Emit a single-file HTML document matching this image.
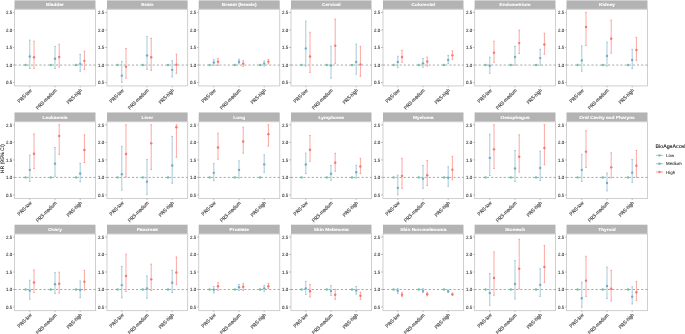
<!DOCTYPE html><html><head><meta charset="utf-8"><style>html,body{margin:0;padding:0;background:#fff;}svg{display:block;will-change:transform;}text{font-family:"Liberation Sans",sans-serif;text-rendering:geometricPrecision;}</style></head><body>
<svg width="685" height="334" viewBox="0 0 685 334">
<rect x="0" y="0" width="685" height="334" fill="#fff"/>
<g opacity="0.999">
<rect x="14.5" y="0.4" width="81" height="8.85" fill="#b3b3b3"/>
<text transform="translate(55,6.16) scale(1,0.9) rotate(0.01)" font-size="4.8" font-weight="bold" fill="#fff" stroke="#fff" stroke-width="0.1" text-anchor="middle">Bladder</text>
<rect x="14.5" y="9.25" width="81" height="76.65" fill="none" stroke="#cfcfcf" stroke-width="1"/>
<line x1="12.9" x2="14.5" y1="82.55" y2="82.55" stroke="#9a9a9a" stroke-width="0.6"/>
<text transform="translate(12.15,84.43) scale(1,1.07) rotate(0.01)" font-size="4.4" fill="#1a1a1a" stroke="#1a1a1a" stroke-width="0.06" text-anchor="end">0.5</text>
<line x1="12.9" x2="14.5" y1="65.05" y2="65.05" stroke="#9a9a9a" stroke-width="0.6"/>
<text transform="translate(12.15,66.93) scale(1,1.07) rotate(0.01)" font-size="4.4" fill="#1a1a1a" stroke="#1a1a1a" stroke-width="0.06" text-anchor="end">1.0</text>
<line x1="12.9" x2="14.5" y1="47.55" y2="47.55" stroke="#9a9a9a" stroke-width="0.6"/>
<text transform="translate(12.15,49.43) scale(1,1.07) rotate(0.01)" font-size="4.4" fill="#1a1a1a" stroke="#1a1a1a" stroke-width="0.06" text-anchor="end">1.5</text>
<line x1="12.9" x2="14.5" y1="30.05" y2="30.05" stroke="#9a9a9a" stroke-width="0.6"/>
<text transform="translate(12.15,31.93) scale(1,1.07) rotate(0.01)" font-size="4.4" fill="#1a1a1a" stroke="#1a1a1a" stroke-width="0.06" text-anchor="end">2.0</text>
<line x1="12.9" x2="14.5" y1="12.55" y2="12.55" stroke="#9a9a9a" stroke-width="0.6"/>
<text transform="translate(12.15,14.43) scale(1,1.07) rotate(0.01)" font-size="4.4" fill="#1a1a1a" stroke="#1a1a1a" stroke-width="0.06" text-anchor="end">2.5</text>
<line x1="29.8" x2="29.8" y1="85.9" y2="87.4" stroke="#9a9a9a" stroke-width="0.6"/>
<text transform="translate(29.5,88.3) rotate(-45) scale(1,1.15)" font-size="4.55" fill="#3a3a3a" stroke="#3a3a3a" stroke-width="0.1" text-anchor="end" y="3.08">PRS-low</text>
<line x1="55" x2="55" y1="85.9" y2="87.4" stroke="#9a9a9a" stroke-width="0.6"/>
<text transform="translate(54.7,88.3) rotate(-45) scale(1,1.15)" font-size="4.55" fill="#3a3a3a" stroke="#3a3a3a" stroke-width="0.1" text-anchor="end" y="3.08">PRS-medium</text>
<line x1="80.2" x2="80.2" y1="85.9" y2="87.4" stroke="#9a9a9a" stroke-width="0.6"/>
<text transform="translate(79.9,88.3) rotate(-45) scale(1,1.15)" font-size="4.55" fill="#3a3a3a" stroke="#3a3a3a" stroke-width="0.1" text-anchor="end" y="3.08">PRS-high</text>
<line x1="14.5" x2="95.5" y1="65.05" y2="65.05" stroke="#888" stroke-width="0.75" stroke-dasharray="2.1 2.05"/>
<circle cx="25.6" cy="65.05" r="1.2" fill="#6cc49e"/>
<g stroke="#74abc5" stroke-width="0.7" stroke-opacity="0.9"><line x1="29.8" x2="29.8" y1="40.12" y2="68.48"/><line x1="29" x2="30.6" y1="40.12" y2="40.12"/><line x1="29" x2="30.6" y1="68.48" y2="68.48"/></g>
<circle cx="29.8" cy="56.49" r="1.2" fill="#74abc5"/>
<g stroke="#f8766d" stroke-width="0.7" stroke-opacity="0.9"><line x1="34" x2="34" y1="41.28" y2="68.48"/><line x1="33.2" x2="34.8" y1="41.28" y2="41.28"/><line x1="33.2" x2="34.8" y1="68.48" y2="68.48"/></g>
<circle cx="34" cy="57.18" r="1.2" fill="#f8766d"/>
<circle cx="50.8" cy="65.05" r="1.2" fill="#6cc49e"/>
<g stroke="#74abc5" stroke-width="0.7" stroke-opacity="0.9"><line x1="55" x2="55" y1="46.35" y2="68.48"/><line x1="54.2" x2="55.8" y1="46.35" y2="46.35"/><line x1="54.2" x2="55.8" y1="68.48" y2="68.48"/></g>
<circle cx="55" cy="58.8" r="1.2" fill="#74abc5"/>
<g stroke="#f8766d" stroke-width="0.7" stroke-opacity="0.9"><line x1="59.2" x2="59.2" y1="44.27" y2="67.1"/><line x1="58.4" x2="60" y1="44.27" y2="44.27"/><line x1="58.4" x2="60" y1="67.1" y2="67.1"/></g>
<circle cx="59.2" cy="56.95" r="1.2" fill="#f8766d"/>
<circle cx="76" cy="65.05" r="1.2" fill="#6cc49e"/>
<g stroke="#74abc5" stroke-width="0.7" stroke-opacity="0.9"><line x1="80.2" x2="80.2" y1="54.42" y2="71.25"/><line x1="79.4" x2="81" y1="54.42" y2="54.42"/><line x1="79.4" x2="81" y1="71.25" y2="71.25"/></g>
<circle cx="80.2" cy="63.87" r="1.2" fill="#74abc5"/>
<g stroke="#f8766d" stroke-width="0.7" stroke-opacity="0.9"><line x1="84.4" x2="84.4" y1="51.19" y2="69.4"/><line x1="83.6" x2="85.2" y1="51.19" y2="51.19"/><line x1="83.6" x2="85.2" y1="69.4" y2="69.4"/></g>
<circle cx="84.4" cy="60.87" r="1.2" fill="#f8766d"/>
<rect x="107" y="0.4" width="80.6" height="8.85" fill="#b3b3b3"/>
<text transform="translate(147.3,6.16) scale(1,0.9) rotate(0.01)" font-size="4.8" font-weight="bold" fill="#fff" stroke="#fff" stroke-width="0.1" text-anchor="middle">Brain</text>
<rect x="107" y="9.25" width="80.6" height="76.65" fill="none" stroke="#cfcfcf" stroke-width="1"/>
<line x1="104.9" x2="107" y1="82.55" y2="82.55" stroke="#9a9a9a" stroke-width="0.6"/>
<text transform="translate(104.15,84.43) scale(1,1.07) rotate(0.01)" font-size="4.4" fill="#1a1a1a" stroke="#1a1a1a" stroke-width="0.06" text-anchor="end">0.5</text>
<line x1="104.9" x2="107" y1="65.05" y2="65.05" stroke="#9a9a9a" stroke-width="0.6"/>
<text transform="translate(104.15,66.93) scale(1,1.07) rotate(0.01)" font-size="4.4" fill="#1a1a1a" stroke="#1a1a1a" stroke-width="0.06" text-anchor="end">1.0</text>
<line x1="104.9" x2="107" y1="47.55" y2="47.55" stroke="#9a9a9a" stroke-width="0.6"/>
<text transform="translate(104.15,49.43) scale(1,1.07) rotate(0.01)" font-size="4.4" fill="#1a1a1a" stroke="#1a1a1a" stroke-width="0.06" text-anchor="end">1.5</text>
<line x1="104.9" x2="107" y1="30.05" y2="30.05" stroke="#9a9a9a" stroke-width="0.6"/>
<text transform="translate(104.15,31.93) scale(1,1.07) rotate(0.01)" font-size="4.4" fill="#1a1a1a" stroke="#1a1a1a" stroke-width="0.06" text-anchor="end">2.0</text>
<line x1="104.9" x2="107" y1="12.55" y2="12.55" stroke="#9a9a9a" stroke-width="0.6"/>
<text transform="translate(104.15,14.43) scale(1,1.07) rotate(0.01)" font-size="4.4" fill="#1a1a1a" stroke="#1a1a1a" stroke-width="0.06" text-anchor="end">2.5</text>
<line x1="121.8" x2="121.8" y1="85.9" y2="87.4" stroke="#9a9a9a" stroke-width="0.6"/>
<text transform="translate(121.5,88.3) rotate(-45) scale(1,1.15)" font-size="4.55" fill="#3a3a3a" stroke="#3a3a3a" stroke-width="0.1" text-anchor="end" y="3.08">PRS-low</text>
<line x1="147" x2="147" y1="85.9" y2="87.4" stroke="#9a9a9a" stroke-width="0.6"/>
<text transform="translate(146.7,88.3) rotate(-45) scale(1,1.15)" font-size="4.55" fill="#3a3a3a" stroke="#3a3a3a" stroke-width="0.1" text-anchor="end" y="3.08">PRS-medium</text>
<line x1="172.2" x2="172.2" y1="85.9" y2="87.4" stroke="#9a9a9a" stroke-width="0.6"/>
<text transform="translate(171.9,88.3) rotate(-45) scale(1,1.15)" font-size="4.55" fill="#3a3a3a" stroke="#3a3a3a" stroke-width="0.1" text-anchor="end" y="3.08">PRS-high</text>
<line x1="107" x2="187.6" y1="65.05" y2="65.05" stroke="#888" stroke-width="0.75" stroke-dasharray="2.1 2.05"/>
<circle cx="117.6" cy="65.05" r="1.2" fill="#6cc49e"/>
<g stroke="#74abc5" stroke-width="0.7" stroke-opacity="0.9"><line x1="121.8" x2="121.8" y1="61.56" y2="82.31"/><line x1="121" x2="122.6" y1="61.56" y2="61.56"/><line x1="121" x2="122.6" y1="82.31" y2="82.31"/></g>
<circle cx="121.8" cy="75.63" r="1.2" fill="#74abc5"/>
<g stroke="#f8766d" stroke-width="0.7" stroke-opacity="0.9"><line x1="126" x2="126" y1="48.42" y2="78.16"/><line x1="125.2" x2="126.8" y1="48.42" y2="48.42"/><line x1="125.2" x2="126.8" y1="78.16" y2="78.16"/></g>
<circle cx="126" cy="66.63" r="1.2" fill="#f8766d"/>
<circle cx="142.8" cy="65.05" r="1.2" fill="#6cc49e"/>
<g stroke="#74abc5" stroke-width="0.7" stroke-opacity="0.9"><line x1="147" x2="147" y1="36.66" y2="69.4"/><line x1="146.2" x2="147.8" y1="36.66" y2="36.66"/><line x1="146.2" x2="147.8" y1="69.4" y2="69.4"/></g>
<circle cx="147" cy="55.57" r="1.2" fill="#74abc5"/>
<g stroke="#f8766d" stroke-width="0.7" stroke-opacity="0.9"><line x1="151.2" x2="151.2" y1="38.28" y2="70.32"/><line x1="150.4" x2="152" y1="38.28" y2="38.28"/><line x1="150.4" x2="152" y1="70.32" y2="70.32"/></g>
<circle cx="151.2" cy="57.18" r="1.2" fill="#f8766d"/>
<circle cx="168" cy="65.05" r="1.2" fill="#6cc49e"/>
<g stroke="#74abc5" stroke-width="0.7" stroke-opacity="0.9"><line x1="172.2" x2="172.2" y1="60.64" y2="77.01"/><line x1="171.4" x2="173" y1="60.64" y2="60.64"/><line x1="171.4" x2="173" y1="77.01" y2="77.01"/></g>
<circle cx="172.2" cy="69.86" r="1.2" fill="#74abc5"/>
<g stroke="#f8766d" stroke-width="0.7" stroke-opacity="0.9"><line x1="176.4" x2="176.4" y1="54.19" y2="73.32"/><line x1="175.6" x2="177.2" y1="54.19" y2="54.19"/><line x1="175.6" x2="177.2" y1="73.32" y2="73.32"/></g>
<circle cx="176.4" cy="64.79" r="1.2" fill="#f8766d"/>
<rect x="198.7" y="0.4" width="81" height="8.85" fill="#b3b3b3"/>
<text transform="translate(239.2,6.16) scale(1,0.9) rotate(0.01)" font-size="4.8" font-weight="bold" fill="#fff" stroke="#fff" stroke-width="0.1" text-anchor="middle">Breast (female)</text>
<rect x="198.7" y="9.25" width="81" height="76.65" fill="none" stroke="#cfcfcf" stroke-width="1"/>
<line x1="196.9" x2="198.7" y1="82.55" y2="82.55" stroke="#9a9a9a" stroke-width="0.6"/>
<text transform="translate(196.15,84.43) scale(1,1.07) rotate(0.01)" font-size="4.4" fill="#1a1a1a" stroke="#1a1a1a" stroke-width="0.06" text-anchor="end">0.5</text>
<line x1="196.9" x2="198.7" y1="65.05" y2="65.05" stroke="#9a9a9a" stroke-width="0.6"/>
<text transform="translate(196.15,66.93) scale(1,1.07) rotate(0.01)" font-size="4.4" fill="#1a1a1a" stroke="#1a1a1a" stroke-width="0.06" text-anchor="end">1.0</text>
<line x1="196.9" x2="198.7" y1="47.55" y2="47.55" stroke="#9a9a9a" stroke-width="0.6"/>
<text transform="translate(196.15,49.43) scale(1,1.07) rotate(0.01)" font-size="4.4" fill="#1a1a1a" stroke="#1a1a1a" stroke-width="0.06" text-anchor="end">1.5</text>
<line x1="196.9" x2="198.7" y1="30.05" y2="30.05" stroke="#9a9a9a" stroke-width="0.6"/>
<text transform="translate(196.15,31.93) scale(1,1.07) rotate(0.01)" font-size="4.4" fill="#1a1a1a" stroke="#1a1a1a" stroke-width="0.06" text-anchor="end">2.0</text>
<line x1="196.9" x2="198.7" y1="12.55" y2="12.55" stroke="#9a9a9a" stroke-width="0.6"/>
<text transform="translate(196.15,14.43) scale(1,1.07) rotate(0.01)" font-size="4.4" fill="#1a1a1a" stroke="#1a1a1a" stroke-width="0.06" text-anchor="end">2.5</text>
<line x1="213.8" x2="213.8" y1="85.9" y2="87.4" stroke="#9a9a9a" stroke-width="0.6"/>
<text transform="translate(213.5,88.3) rotate(-45) scale(1,1.15)" font-size="4.55" fill="#3a3a3a" stroke="#3a3a3a" stroke-width="0.1" text-anchor="end" y="3.08">PRS-low</text>
<line x1="239" x2="239" y1="85.9" y2="87.4" stroke="#9a9a9a" stroke-width="0.6"/>
<text transform="translate(238.7,88.3) rotate(-45) scale(1,1.15)" font-size="4.55" fill="#3a3a3a" stroke="#3a3a3a" stroke-width="0.1" text-anchor="end" y="3.08">PRS-medium</text>
<line x1="264.2" x2="264.2" y1="85.9" y2="87.4" stroke="#9a9a9a" stroke-width="0.6"/>
<text transform="translate(263.9,88.3) rotate(-45) scale(1,1.15)" font-size="4.55" fill="#3a3a3a" stroke="#3a3a3a" stroke-width="0.1" text-anchor="end" y="3.08">PRS-high</text>
<line x1="198.7" x2="279.7" y1="65.05" y2="65.05" stroke="#888" stroke-width="0.75" stroke-dasharray="2.1 2.05"/>
<circle cx="209.6" cy="65.05" r="1.2" fill="#6cc49e"/>
<g stroke="#74abc5" stroke-width="0.7" stroke-opacity="0.9"><line x1="213.8" x2="213.8" y1="59.42" y2="65.41"/><line x1="213" x2="214.6" y1="59.42" y2="59.42"/><line x1="213" x2="214.6" y1="65.41" y2="65.41"/></g>
<circle cx="213.8" cy="62.53" r="1.2" fill="#74abc5"/>
<g stroke="#f8766d" stroke-width="0.7" stroke-opacity="0.9"><line x1="218" x2="218" y1="58.46" y2="65.41"/><line x1="217.2" x2="218.8" y1="58.46" y2="58.46"/><line x1="217.2" x2="218.8" y1="65.41" y2="65.41"/></g>
<circle cx="218" cy="61.82" r="1.2" fill="#f8766d"/>
<circle cx="234.8" cy="65.05" r="1.2" fill="#6cc49e"/>
<g stroke="#74abc5" stroke-width="0.7" stroke-opacity="0.9"><line x1="239" x2="239" y1="59.18" y2="63.97"/><line x1="238.2" x2="239.8" y1="59.18" y2="59.18"/><line x1="238.2" x2="239.8" y1="63.97" y2="63.97"/></g>
<circle cx="239" cy="61.82" r="1.2" fill="#74abc5"/>
<g stroke="#f8766d" stroke-width="0.7" stroke-opacity="0.9"><line x1="243.2" x2="243.2" y1="60.62" y2="66.36"/><line x1="242.4" x2="244" y1="60.62" y2="60.62"/><line x1="242.4" x2="244" y1="66.36" y2="66.36"/></g>
<circle cx="243.2" cy="63.61" r="1.2" fill="#f8766d"/>
<circle cx="260" cy="65.05" r="1.2" fill="#6cc49e"/>
<g stroke="#74abc5" stroke-width="0.7" stroke-opacity="0.9"><line x1="264.2" x2="264.2" y1="61.1" y2="66.12"/><line x1="263.4" x2="265" y1="61.1" y2="61.1"/><line x1="263.4" x2="265" y1="66.12" y2="66.12"/></g>
<circle cx="264.2" cy="63.61" r="1.2" fill="#74abc5"/>
<g stroke="#f8766d" stroke-width="0.7" stroke-opacity="0.9"><line x1="268.4" x2="268.4" y1="59.42" y2="63.97"/><line x1="267.6" x2="269.2" y1="59.42" y2="59.42"/><line x1="267.6" x2="269.2" y1="63.97" y2="63.97"/></g>
<circle cx="268.4" cy="61.58" r="1.2" fill="#f8766d"/>
<rect x="291" y="0.4" width="80.5" height="8.85" fill="#b3b3b3"/>
<text transform="translate(331.25,6.16) scale(1,0.9) rotate(0.01)" font-size="4.8" font-weight="bold" fill="#fff" stroke="#fff" stroke-width="0.1" text-anchor="middle">Cervical</text>
<rect x="291" y="9.25" width="80.5" height="76.65" fill="none" stroke="#cfcfcf" stroke-width="1"/>
<line x1="288.9" x2="291" y1="82.55" y2="82.55" stroke="#9a9a9a" stroke-width="0.6"/>
<text transform="translate(288.15,84.43) scale(1,1.07) rotate(0.01)" font-size="4.4" fill="#1a1a1a" stroke="#1a1a1a" stroke-width="0.06" text-anchor="end">0.5</text>
<line x1="288.9" x2="291" y1="65.05" y2="65.05" stroke="#9a9a9a" stroke-width="0.6"/>
<text transform="translate(288.15,66.93) scale(1,1.07) rotate(0.01)" font-size="4.4" fill="#1a1a1a" stroke="#1a1a1a" stroke-width="0.06" text-anchor="end">1.0</text>
<line x1="288.9" x2="291" y1="47.55" y2="47.55" stroke="#9a9a9a" stroke-width="0.6"/>
<text transform="translate(288.15,49.43) scale(1,1.07) rotate(0.01)" font-size="4.4" fill="#1a1a1a" stroke="#1a1a1a" stroke-width="0.06" text-anchor="end">1.5</text>
<line x1="288.9" x2="291" y1="30.05" y2="30.05" stroke="#9a9a9a" stroke-width="0.6"/>
<text transform="translate(288.15,31.93) scale(1,1.07) rotate(0.01)" font-size="4.4" fill="#1a1a1a" stroke="#1a1a1a" stroke-width="0.06" text-anchor="end">2.0</text>
<line x1="288.9" x2="291" y1="12.55" y2="12.55" stroke="#9a9a9a" stroke-width="0.6"/>
<text transform="translate(288.15,14.43) scale(1,1.07) rotate(0.01)" font-size="4.4" fill="#1a1a1a" stroke="#1a1a1a" stroke-width="0.06" text-anchor="end">2.5</text>
<line x1="305.8" x2="305.8" y1="85.9" y2="87.4" stroke="#9a9a9a" stroke-width="0.6"/>
<text transform="translate(305.5,88.3) rotate(-45) scale(1,1.15)" font-size="4.55" fill="#3a3a3a" stroke="#3a3a3a" stroke-width="0.1" text-anchor="end" y="3.08">PRS-low</text>
<line x1="331" x2="331" y1="85.9" y2="87.4" stroke="#9a9a9a" stroke-width="0.6"/>
<text transform="translate(330.7,88.3) rotate(-45) scale(1,1.15)" font-size="4.55" fill="#3a3a3a" stroke="#3a3a3a" stroke-width="0.1" text-anchor="end" y="3.08">PRS-medium</text>
<line x1="356.2" x2="356.2" y1="85.9" y2="87.4" stroke="#9a9a9a" stroke-width="0.6"/>
<text transform="translate(355.9,88.3) rotate(-45) scale(1,1.15)" font-size="4.55" fill="#3a3a3a" stroke="#3a3a3a" stroke-width="0.1" text-anchor="end" y="3.08">PRS-high</text>
<line x1="291" x2="371.5" y1="65.05" y2="65.05" stroke="#888" stroke-width="0.75" stroke-dasharray="2.1 2.05"/>
<circle cx="301.6" cy="65.05" r="1.2" fill="#6cc49e"/>
<g stroke="#74abc5" stroke-width="0.7" stroke-opacity="0.9"><line x1="305.8" x2="305.8" y1="21.22" y2="66.17"/><line x1="305" x2="306.6" y1="21.22" y2="21.22"/><line x1="305" x2="306.6" y1="66.17" y2="66.17"/></g>
<circle cx="305.8" cy="48.42" r="1.2" fill="#74abc5"/>
<g stroke="#f8766d" stroke-width="0.7" stroke-opacity="0.9"><line x1="310" x2="310" y1="32.28" y2="72.4"/><line x1="309.2" x2="310.8" y1="32.28" y2="32.28"/><line x1="309.2" x2="310.8" y1="72.4" y2="72.4"/></g>
<circle cx="310" cy="56.49" r="1.2" fill="#f8766d"/>
<circle cx="326.8" cy="65.05" r="1.2" fill="#6cc49e"/>
<g stroke="#74abc5" stroke-width="0.7" stroke-opacity="0.9"><line x1="331" x2="331" y1="46.35" y2="78.16"/><line x1="330.2" x2="331.8" y1="46.35" y2="46.35"/><line x1="330.2" x2="331.8" y1="78.16" y2="78.16"/></g>
<circle cx="331" cy="65.48" r="1.2" fill="#74abc5"/>
<g stroke="#f8766d" stroke-width="0.7" stroke-opacity="0.9"><line x1="335.2" x2="335.2" y1="19.14" y2="63.64"/><line x1="334.4" x2="336" y1="19.14" y2="19.14"/><line x1="334.4" x2="336" y1="63.64" y2="63.64"/></g>
<circle cx="335.2" cy="45.66" r="1.2" fill="#f8766d"/>
<circle cx="352" cy="65.05" r="1.2" fill="#6cc49e"/>
<g stroke="#74abc5" stroke-width="0.7" stroke-opacity="0.9"><line x1="356.2" x2="356.2" y1="44.04" y2="74.24"/><line x1="355.4" x2="357" y1="44.04" y2="44.04"/><line x1="355.4" x2="357" y1="74.24" y2="74.24"/></g>
<circle cx="356.2" cy="62.02" r="1.2" fill="#74abc5"/>
<g stroke="#f8766d" stroke-width="0.7" stroke-opacity="0.9"><line x1="360.4" x2="360.4" y1="46.35" y2="76.32"/><line x1="359.6" x2="361.2" y1="46.35" y2="46.35"/><line x1="359.6" x2="361.2" y1="76.32" y2="76.32"/></g>
<circle cx="360.4" cy="64.33" r="1.2" fill="#f8766d"/>
<rect x="383" y="0.4" width="80.5" height="8.85" fill="#b3b3b3"/>
<text transform="translate(423.25,6.16) scale(1,0.9) rotate(0.01)" font-size="4.8" font-weight="bold" fill="#fff" stroke="#fff" stroke-width="0.1" text-anchor="middle">Colorectal</text>
<rect x="383" y="9.25" width="80.5" height="76.65" fill="none" stroke="#cfcfcf" stroke-width="1"/>
<line x1="380.9" x2="383" y1="82.55" y2="82.55" stroke="#9a9a9a" stroke-width="0.6"/>
<text transform="translate(380.15,84.43) scale(1,1.07) rotate(0.01)" font-size="4.4" fill="#1a1a1a" stroke="#1a1a1a" stroke-width="0.06" text-anchor="end">0.5</text>
<line x1="380.9" x2="383" y1="65.05" y2="65.05" stroke="#9a9a9a" stroke-width="0.6"/>
<text transform="translate(380.15,66.93) scale(1,1.07) rotate(0.01)" font-size="4.4" fill="#1a1a1a" stroke="#1a1a1a" stroke-width="0.06" text-anchor="end">1.0</text>
<line x1="380.9" x2="383" y1="47.55" y2="47.55" stroke="#9a9a9a" stroke-width="0.6"/>
<text transform="translate(380.15,49.43) scale(1,1.07) rotate(0.01)" font-size="4.4" fill="#1a1a1a" stroke="#1a1a1a" stroke-width="0.06" text-anchor="end">1.5</text>
<line x1="380.9" x2="383" y1="30.05" y2="30.05" stroke="#9a9a9a" stroke-width="0.6"/>
<text transform="translate(380.15,31.93) scale(1,1.07) rotate(0.01)" font-size="4.4" fill="#1a1a1a" stroke="#1a1a1a" stroke-width="0.06" text-anchor="end">2.0</text>
<line x1="380.9" x2="383" y1="12.55" y2="12.55" stroke="#9a9a9a" stroke-width="0.6"/>
<text transform="translate(380.15,14.43) scale(1,1.07) rotate(0.01)" font-size="4.4" fill="#1a1a1a" stroke="#1a1a1a" stroke-width="0.06" text-anchor="end">2.5</text>
<line x1="397.8" x2="397.8" y1="85.9" y2="87.4" stroke="#9a9a9a" stroke-width="0.6"/>
<text transform="translate(397.5,88.3) rotate(-45) scale(1,1.15)" font-size="4.55" fill="#3a3a3a" stroke="#3a3a3a" stroke-width="0.1" text-anchor="end" y="3.08">PRS-low</text>
<line x1="423" x2="423" y1="85.9" y2="87.4" stroke="#9a9a9a" stroke-width="0.6"/>
<text transform="translate(422.7,88.3) rotate(-45) scale(1,1.15)" font-size="4.55" fill="#3a3a3a" stroke="#3a3a3a" stroke-width="0.1" text-anchor="end" y="3.08">PRS-medium</text>
<line x1="448.2" x2="448.2" y1="85.9" y2="87.4" stroke="#9a9a9a" stroke-width="0.6"/>
<text transform="translate(447.9,88.3) rotate(-45) scale(1,1.15)" font-size="4.55" fill="#3a3a3a" stroke="#3a3a3a" stroke-width="0.1" text-anchor="end" y="3.08">PRS-high</text>
<line x1="383" x2="463.5" y1="65.05" y2="65.05" stroke="#888" stroke-width="0.75" stroke-dasharray="2.1 2.05"/>
<circle cx="393.6" cy="65.05" r="1.2" fill="#6cc49e"/>
<g stroke="#74abc5" stroke-width="0.7" stroke-opacity="0.9"><line x1="397.8" x2="397.8" y1="56.29" y2="67.55"/><line x1="397" x2="398.6" y1="56.29" y2="56.29"/><line x1="397" x2="398.6" y1="67.55" y2="67.55"/></g>
<circle cx="397.8" cy="61.92" r="1.2" fill="#74abc5"/>
<g stroke="#f8766d" stroke-width="0.7" stroke-opacity="0.9"><line x1="402" x2="402" y1="50.43" y2="62.28"/><line x1="401.2" x2="402.8" y1="50.43" y2="50.43"/><line x1="401.2" x2="402.8" y1="62.28" y2="62.28"/></g>
<circle cx="402" cy="57.01" r="1.2" fill="#f8766d"/>
<circle cx="418.8" cy="65.05" r="1.2" fill="#6cc49e"/>
<g stroke="#74abc5" stroke-width="0.7" stroke-opacity="0.9"><line x1="423" x2="423" y1="58.45" y2="67.31"/><line x1="422.2" x2="423.8" y1="58.45" y2="58.45"/><line x1="422.2" x2="423.8" y1="67.31" y2="67.31"/></g>
<circle cx="423" cy="63.36" r="1.2" fill="#74abc5"/>
<g stroke="#f8766d" stroke-width="0.7" stroke-opacity="0.9"><line x1="427.2" x2="427.2" y1="57.13" y2="66.11"/><line x1="426.4" x2="428" y1="57.13" y2="57.13"/><line x1="426.4" x2="428" y1="66.11" y2="66.11"/></g>
<circle cx="427.2" cy="61.56" r="1.2" fill="#f8766d"/>
<circle cx="444" cy="65.05" r="1.2" fill="#6cc49e"/>
<g stroke="#74abc5" stroke-width="0.7" stroke-opacity="0.9"><line x1="448.2" x2="448.2" y1="55.46" y2="63.72"/><line x1="447.4" x2="449" y1="55.46" y2="55.46"/><line x1="447.4" x2="449" y1="63.72" y2="63.72"/></g>
<circle cx="448.2" cy="60.01" r="1.2" fill="#74abc5"/>
<g stroke="#f8766d" stroke-width="0.7" stroke-opacity="0.9"><line x1="452.4" x2="452.4" y1="50.79" y2="59.41"/><line x1="451.6" x2="453.2" y1="50.79" y2="50.79"/><line x1="451.6" x2="453.2" y1="59.41" y2="59.41"/></g>
<circle cx="452.4" cy="55.34" r="1.2" fill="#f8766d"/>
<rect x="474.6" y="0.4" width="80.9" height="8.85" fill="#b3b3b3"/>
<text transform="translate(515.05,6.16) scale(1,0.9) rotate(0.01)" font-size="4.8" font-weight="bold" fill="#fff" stroke="#fff" stroke-width="0.1" text-anchor="middle">Endometrium</text>
<rect x="474.6" y="9.25" width="80.9" height="76.65" fill="none" stroke="#cfcfcf" stroke-width="1"/>
<line x1="472.9" x2="474.6" y1="82.55" y2="82.55" stroke="#9a9a9a" stroke-width="0.6"/>
<text transform="translate(472.15,84.43) scale(1,1.07) rotate(0.01)" font-size="4.4" fill="#1a1a1a" stroke="#1a1a1a" stroke-width="0.06" text-anchor="end">0.5</text>
<line x1="472.9" x2="474.6" y1="65.05" y2="65.05" stroke="#9a9a9a" stroke-width="0.6"/>
<text transform="translate(472.15,66.93) scale(1,1.07) rotate(0.01)" font-size="4.4" fill="#1a1a1a" stroke="#1a1a1a" stroke-width="0.06" text-anchor="end">1.0</text>
<line x1="472.9" x2="474.6" y1="47.55" y2="47.55" stroke="#9a9a9a" stroke-width="0.6"/>
<text transform="translate(472.15,49.43) scale(1,1.07) rotate(0.01)" font-size="4.4" fill="#1a1a1a" stroke="#1a1a1a" stroke-width="0.06" text-anchor="end">1.5</text>
<line x1="472.9" x2="474.6" y1="30.05" y2="30.05" stroke="#9a9a9a" stroke-width="0.6"/>
<text transform="translate(472.15,31.93) scale(1,1.07) rotate(0.01)" font-size="4.4" fill="#1a1a1a" stroke="#1a1a1a" stroke-width="0.06" text-anchor="end">2.0</text>
<line x1="472.9" x2="474.6" y1="12.55" y2="12.55" stroke="#9a9a9a" stroke-width="0.6"/>
<text transform="translate(472.15,14.43) scale(1,1.07) rotate(0.01)" font-size="4.4" fill="#1a1a1a" stroke="#1a1a1a" stroke-width="0.06" text-anchor="end">2.5</text>
<line x1="489.8" x2="489.8" y1="85.9" y2="87.4" stroke="#9a9a9a" stroke-width="0.6"/>
<text transform="translate(489.5,88.3) rotate(-45) scale(1,1.15)" font-size="4.55" fill="#3a3a3a" stroke="#3a3a3a" stroke-width="0.1" text-anchor="end" y="3.08">PRS-low</text>
<line x1="515" x2="515" y1="85.9" y2="87.4" stroke="#9a9a9a" stroke-width="0.6"/>
<text transform="translate(514.7,88.3) rotate(-45) scale(1,1.15)" font-size="4.55" fill="#3a3a3a" stroke="#3a3a3a" stroke-width="0.1" text-anchor="end" y="3.08">PRS-medium</text>
<line x1="540.2" x2="540.2" y1="85.9" y2="87.4" stroke="#9a9a9a" stroke-width="0.6"/>
<text transform="translate(539.9,88.3) rotate(-45) scale(1,1.15)" font-size="4.55" fill="#3a3a3a" stroke="#3a3a3a" stroke-width="0.1" text-anchor="end" y="3.08">PRS-high</text>
<line x1="474.6" x2="555.5" y1="65.05" y2="65.05" stroke="#888" stroke-width="0.75" stroke-dasharray="2.1 2.05"/>
<circle cx="485.6" cy="65.05" r="1.2" fill="#6cc49e"/>
<g stroke="#74abc5" stroke-width="0.7" stroke-opacity="0.9"><line x1="489.8" x2="489.8" y1="57.18" y2="73.32"/><line x1="489" x2="490.6" y1="57.18" y2="57.18"/><line x1="489" x2="490.6" y1="73.32" y2="73.32"/></g>
<circle cx="489.8" cy="65.71" r="1.2" fill="#74abc5"/>
<g stroke="#f8766d" stroke-width="0.7" stroke-opacity="0.9"><line x1="494" x2="494" y1="41.28" y2="62.25"/><line x1="493.2" x2="494.8" y1="41.28" y2="41.28"/><line x1="493.2" x2="494.8" y1="62.25" y2="62.25"/></g>
<circle cx="494" cy="52.8" r="1.2" fill="#f8766d"/>
<circle cx="510.8" cy="65.05" r="1.2" fill="#6cc49e"/>
<g stroke="#74abc5" stroke-width="0.7" stroke-opacity="0.9"><line x1="515" x2="515" y1="46.35" y2="65.25"/><line x1="514.2" x2="515.8" y1="46.35" y2="46.35"/><line x1="514.2" x2="515.8" y1="65.25" y2="65.25"/></g>
<circle cx="515" cy="56.95" r="1.2" fill="#74abc5"/>
<g stroke="#f8766d" stroke-width="0.7" stroke-opacity="0.9"><line x1="519.2" x2="519.2" y1="30.21" y2="53.49"/><line x1="518.4" x2="520" y1="30.21" y2="30.21"/><line x1="518.4" x2="520" y1="53.49" y2="53.49"/></g>
<circle cx="519.2" cy="43.12" r="1.2" fill="#f8766d"/>
<circle cx="536" cy="65.05" r="1.2" fill="#6cc49e"/>
<g stroke="#74abc5" stroke-width="0.7" stroke-opacity="0.9"><line x1="540.2" x2="540.2" y1="49.34" y2="65.25"/><line x1="539.4" x2="541" y1="49.34" y2="49.34"/><line x1="539.4" x2="541" y1="65.25" y2="65.25"/></g>
<circle cx="540.2" cy="58.1" r="1.2" fill="#74abc5"/>
<g stroke="#f8766d" stroke-width="0.7" stroke-opacity="0.9"><line x1="544.4" x2="544.4" y1="33.21" y2="54.19"/><line x1="543.6" x2="545.2" y1="33.21" y2="33.21"/><line x1="543.6" x2="545.2" y1="54.19" y2="54.19"/></g>
<circle cx="544.4" cy="44.5" r="1.2" fill="#f8766d"/>
<rect x="566.5" y="0.4" width="81" height="8.85" fill="#b3b3b3"/>
<text transform="translate(607,6.16) scale(1,0.9) rotate(0.01)" font-size="4.8" font-weight="bold" fill="#fff" stroke="#fff" stroke-width="0.1" text-anchor="middle">Kidney</text>
<rect x="566.5" y="9.25" width="81" height="76.65" fill="none" stroke="#cfcfcf" stroke-width="1"/>
<line x1="564.9" x2="566.5" y1="82.55" y2="82.55" stroke="#9a9a9a" stroke-width="0.6"/>
<text transform="translate(564.15,84.43) scale(1,1.07) rotate(0.01)" font-size="4.4" fill="#1a1a1a" stroke="#1a1a1a" stroke-width="0.06" text-anchor="end">0.5</text>
<line x1="564.9" x2="566.5" y1="65.05" y2="65.05" stroke="#9a9a9a" stroke-width="0.6"/>
<text transform="translate(564.15,66.93) scale(1,1.07) rotate(0.01)" font-size="4.4" fill="#1a1a1a" stroke="#1a1a1a" stroke-width="0.06" text-anchor="end">1.0</text>
<line x1="564.9" x2="566.5" y1="47.55" y2="47.55" stroke="#9a9a9a" stroke-width="0.6"/>
<text transform="translate(564.15,49.43) scale(1,1.07) rotate(0.01)" font-size="4.4" fill="#1a1a1a" stroke="#1a1a1a" stroke-width="0.06" text-anchor="end">1.5</text>
<line x1="564.9" x2="566.5" y1="30.05" y2="30.05" stroke="#9a9a9a" stroke-width="0.6"/>
<text transform="translate(564.15,31.93) scale(1,1.07) rotate(0.01)" font-size="4.4" fill="#1a1a1a" stroke="#1a1a1a" stroke-width="0.06" text-anchor="end">2.0</text>
<line x1="564.9" x2="566.5" y1="12.55" y2="12.55" stroke="#9a9a9a" stroke-width="0.6"/>
<text transform="translate(564.15,14.43) scale(1,1.07) rotate(0.01)" font-size="4.4" fill="#1a1a1a" stroke="#1a1a1a" stroke-width="0.06" text-anchor="end">2.5</text>
<line x1="581.8" x2="581.8" y1="85.9" y2="87.4" stroke="#9a9a9a" stroke-width="0.6"/>
<text transform="translate(581.5,88.3) rotate(-45) scale(1,1.15)" font-size="4.55" fill="#3a3a3a" stroke="#3a3a3a" stroke-width="0.1" text-anchor="end" y="3.08">PRS-low</text>
<line x1="607" x2="607" y1="85.9" y2="87.4" stroke="#9a9a9a" stroke-width="0.6"/>
<text transform="translate(606.7,88.3) rotate(-45) scale(1,1.15)" font-size="4.55" fill="#3a3a3a" stroke="#3a3a3a" stroke-width="0.1" text-anchor="end" y="3.08">PRS-medium</text>
<line x1="632.2" x2="632.2" y1="85.9" y2="87.4" stroke="#9a9a9a" stroke-width="0.6"/>
<text transform="translate(631.9,88.3) rotate(-45) scale(1,1.15)" font-size="4.55" fill="#3a3a3a" stroke="#3a3a3a" stroke-width="0.1" text-anchor="end" y="3.08">PRS-high</text>
<line x1="566.5" x2="647.5" y1="65.05" y2="65.05" stroke="#888" stroke-width="0.75" stroke-dasharray="2.1 2.05"/>
<circle cx="577.6" cy="65.05" r="1.2" fill="#6cc49e"/>
<g stroke="#74abc5" stroke-width="0.7" stroke-opacity="0.9"><line x1="581.8" x2="581.8" y1="45.89" y2="71.25"/><line x1="581" x2="582.6" y1="45.89" y2="45.89"/><line x1="581" x2="582.6" y1="71.25" y2="71.25"/></g>
<circle cx="581.8" cy="60.41" r="1.2" fill="#74abc5"/>
<g stroke="#f8766d" stroke-width="0.7" stroke-opacity="0.9"><line x1="586" x2="586" y1="12.23" y2="45.43"/><line x1="585.2" x2="586.8" y1="12.23" y2="12.23"/><line x1="585.2" x2="586.8" y1="45.43" y2="45.43"/></g>
<circle cx="586" cy="26.98" r="1.2" fill="#f8766d"/>
<circle cx="602.8" cy="65.05" r="1.2" fill="#6cc49e"/>
<g stroke="#74abc5" stroke-width="0.7" stroke-opacity="0.9"><line x1="607" x2="607" y1="42.2" y2="66.17"/><line x1="606.2" x2="607.8" y1="42.2" y2="42.2"/><line x1="606.2" x2="607.8" y1="66.17" y2="66.17"/></g>
<circle cx="607" cy="56.03" r="1.2" fill="#74abc5"/>
<g stroke="#f8766d" stroke-width="0.7" stroke-opacity="0.9"><line x1="611.2" x2="611.2" y1="20.07" y2="53.26"/><line x1="610.4" x2="612" y1="20.07" y2="20.07"/><line x1="610.4" x2="612" y1="53.26" y2="53.26"/></g>
<circle cx="611.2" cy="38.74" r="1.2" fill="#f8766d"/>
<circle cx="628" cy="65.05" r="1.2" fill="#6cc49e"/>
<g stroke="#74abc5" stroke-width="0.7" stroke-opacity="0.9"><line x1="632.2" x2="632.2" y1="49.34" y2="68.48"/><line x1="631.4" x2="633" y1="49.34" y2="49.34"/><line x1="631.4" x2="633" y1="68.48" y2="68.48"/></g>
<circle cx="632.2" cy="59.95" r="1.2" fill="#74abc5"/>
<g stroke="#f8766d" stroke-width="0.7" stroke-opacity="0.9"><line x1="636.4" x2="636.4" y1="37.36" y2="60.41"/><line x1="635.6" x2="637.2" y1="37.36" y2="37.36"/><line x1="635.6" x2="637.2" y1="60.41" y2="60.41"/></g>
<circle cx="636.4" cy="50.04" r="1.2" fill="#f8766d"/>
<rect x="14.5" y="112.45" width="81" height="9.3" fill="#b3b3b3"/>
<text transform="translate(55,118.78) scale(1,0.9) rotate(0.01)" font-size="4.8" font-weight="bold" fill="#fff" stroke="#fff" stroke-width="0.1" text-anchor="middle">Leukaemia</text>
<rect x="14.5" y="121.75" width="81" height="76.75" fill="none" stroke="#cfcfcf" stroke-width="1"/>
<line x1="12.9" x2="14.5" y1="194.9" y2="194.9" stroke="#9a9a9a" stroke-width="0.6"/>
<text transform="translate(12.15,196.78) scale(1,1.07) rotate(0.01)" font-size="4.4" fill="#1a1a1a" stroke="#1a1a1a" stroke-width="0.06" text-anchor="end">0.5</text>
<line x1="12.9" x2="14.5" y1="177.4" y2="177.4" stroke="#9a9a9a" stroke-width="0.6"/>
<text transform="translate(12.15,179.28) scale(1,1.07) rotate(0.01)" font-size="4.4" fill="#1a1a1a" stroke="#1a1a1a" stroke-width="0.06" text-anchor="end">1.0</text>
<line x1="12.9" x2="14.5" y1="159.9" y2="159.9" stroke="#9a9a9a" stroke-width="0.6"/>
<text transform="translate(12.15,161.78) scale(1,1.07) rotate(0.01)" font-size="4.4" fill="#1a1a1a" stroke="#1a1a1a" stroke-width="0.06" text-anchor="end">1.5</text>
<line x1="12.9" x2="14.5" y1="142.4" y2="142.4" stroke="#9a9a9a" stroke-width="0.6"/>
<text transform="translate(12.15,144.28) scale(1,1.07) rotate(0.01)" font-size="4.4" fill="#1a1a1a" stroke="#1a1a1a" stroke-width="0.06" text-anchor="end">2.0</text>
<line x1="12.9" x2="14.5" y1="124.9" y2="124.9" stroke="#9a9a9a" stroke-width="0.6"/>
<text transform="translate(12.15,126.78) scale(1,1.07) rotate(0.01)" font-size="4.4" fill="#1a1a1a" stroke="#1a1a1a" stroke-width="0.06" text-anchor="end">2.5</text>
<line x1="29.8" x2="29.8" y1="198.5" y2="200" stroke="#9a9a9a" stroke-width="0.6"/>
<text transform="translate(29.5,200.9) rotate(-45) scale(1,1.15)" font-size="4.55" fill="#3a3a3a" stroke="#3a3a3a" stroke-width="0.1" text-anchor="end" y="3.08">PRS-low</text>
<line x1="55" x2="55" y1="198.5" y2="200" stroke="#9a9a9a" stroke-width="0.6"/>
<text transform="translate(54.7,200.9) rotate(-45) scale(1,1.15)" font-size="4.55" fill="#3a3a3a" stroke="#3a3a3a" stroke-width="0.1" text-anchor="end" y="3.08">PRS-medium</text>
<line x1="80.2" x2="80.2" y1="198.5" y2="200" stroke="#9a9a9a" stroke-width="0.6"/>
<text transform="translate(79.9,200.9) rotate(-45) scale(1,1.15)" font-size="4.55" fill="#3a3a3a" stroke="#3a3a3a" stroke-width="0.1" text-anchor="end" y="3.08">PRS-high</text>
<line x1="14.5" x2="95.5" y1="177.4" y2="177.4" stroke="#888" stroke-width="0.75" stroke-dasharray="2.1 2.05"/>
<circle cx="25.6" cy="177.4" r="1.2" fill="#6cc49e"/>
<g stroke="#74abc5" stroke-width="0.7" stroke-opacity="0.9"><line x1="29.8" x2="29.8" y1="155.12" y2="181.4"/><line x1="29" x2="30.6" y1="155.12" y2="155.12"/><line x1="29" x2="30.6" y1="181.4" y2="181.4"/></g>
<circle cx="29.8" cy="169.87" r="1.2" fill="#74abc5"/>
<g stroke="#f8766d" stroke-width="0.7" stroke-opacity="0.9"><line x1="34" x2="34" y1="133.91" y2="168.49"/><line x1="33.2" x2="34.8" y1="133.91" y2="133.91"/><line x1="33.2" x2="34.8" y1="168.49" y2="168.49"/></g>
<circle cx="34" cy="153.74" r="1.2" fill="#f8766d"/>
<circle cx="50.8" cy="177.4" r="1.2" fill="#6cc49e"/>
<g stroke="#74abc5" stroke-width="0.7" stroke-opacity="0.9"><line x1="55" x2="55" y1="147.51" y2="176.33"/><line x1="54.2" x2="55.8" y1="147.51" y2="147.51"/><line x1="54.2" x2="55.8" y1="176.33" y2="176.33"/></g>
<circle cx="55" cy="163.65" r="1.2" fill="#74abc5"/>
<g stroke="#f8766d" stroke-width="0.7" stroke-opacity="0.9"><line x1="59.2" x2="59.2" y1="124.69" y2="154.43"/><line x1="58.4" x2="60" y1="124.69" y2="124.69"/><line x1="58.4" x2="60" y1="154.43" y2="154.43"/></g>
<circle cx="59.2" cy="135.99" r="1.2" fill="#f8766d"/>
<circle cx="76" cy="177.4" r="1.2" fill="#6cc49e"/>
<g stroke="#74abc5" stroke-width="0.7" stroke-opacity="0.9"><line x1="80.2" x2="80.2" y1="163.19" y2="181.63"/><line x1="79.4" x2="81" y1="163.19" y2="163.19"/><line x1="79.4" x2="81" y1="181.63" y2="181.63"/></g>
<circle cx="80.2" cy="173.56" r="1.2" fill="#74abc5"/>
<g stroke="#f8766d" stroke-width="0.7" stroke-opacity="0.9"><line x1="84.4" x2="84.4" y1="134.83" y2="162.5"/><line x1="83.6" x2="85.2" y1="134.83" y2="134.83"/><line x1="83.6" x2="85.2" y1="162.5" y2="162.5"/></g>
<circle cx="84.4" cy="150.05" r="1.2" fill="#f8766d"/>
<rect x="107" y="112.45" width="80.6" height="9.3" fill="#b3b3b3"/>
<text transform="translate(147.3,118.78) scale(1,0.9) rotate(0.01)" font-size="4.8" font-weight="bold" fill="#fff" stroke="#fff" stroke-width="0.1" text-anchor="middle">Liver</text>
<rect x="107" y="121.75" width="80.6" height="76.75" fill="none" stroke="#cfcfcf" stroke-width="1"/>
<line x1="104.9" x2="107" y1="194.9" y2="194.9" stroke="#9a9a9a" stroke-width="0.6"/>
<text transform="translate(104.15,196.78) scale(1,1.07) rotate(0.01)" font-size="4.4" fill="#1a1a1a" stroke="#1a1a1a" stroke-width="0.06" text-anchor="end">0.5</text>
<line x1="104.9" x2="107" y1="177.4" y2="177.4" stroke="#9a9a9a" stroke-width="0.6"/>
<text transform="translate(104.15,179.28) scale(1,1.07) rotate(0.01)" font-size="4.4" fill="#1a1a1a" stroke="#1a1a1a" stroke-width="0.06" text-anchor="end">1.0</text>
<line x1="104.9" x2="107" y1="159.9" y2="159.9" stroke="#9a9a9a" stroke-width="0.6"/>
<text transform="translate(104.15,161.78) scale(1,1.07) rotate(0.01)" font-size="4.4" fill="#1a1a1a" stroke="#1a1a1a" stroke-width="0.06" text-anchor="end">1.5</text>
<line x1="104.9" x2="107" y1="142.4" y2="142.4" stroke="#9a9a9a" stroke-width="0.6"/>
<text transform="translate(104.15,144.28) scale(1,1.07) rotate(0.01)" font-size="4.4" fill="#1a1a1a" stroke="#1a1a1a" stroke-width="0.06" text-anchor="end">2.0</text>
<line x1="104.9" x2="107" y1="124.9" y2="124.9" stroke="#9a9a9a" stroke-width="0.6"/>
<text transform="translate(104.15,126.78) scale(1,1.07) rotate(0.01)" font-size="4.4" fill="#1a1a1a" stroke="#1a1a1a" stroke-width="0.06" text-anchor="end">2.5</text>
<line x1="121.8" x2="121.8" y1="198.5" y2="200" stroke="#9a9a9a" stroke-width="0.6"/>
<text transform="translate(121.5,200.9) rotate(-45) scale(1,1.15)" font-size="4.55" fill="#3a3a3a" stroke="#3a3a3a" stroke-width="0.1" text-anchor="end" y="3.08">PRS-low</text>
<line x1="147" x2="147" y1="198.5" y2="200" stroke="#9a9a9a" stroke-width="0.6"/>
<text transform="translate(146.7,200.9) rotate(-45) scale(1,1.15)" font-size="4.55" fill="#3a3a3a" stroke="#3a3a3a" stroke-width="0.1" text-anchor="end" y="3.08">PRS-medium</text>
<line x1="172.2" x2="172.2" y1="198.5" y2="200" stroke="#9a9a9a" stroke-width="0.6"/>
<text transform="translate(171.9,200.9) rotate(-45) scale(1,1.15)" font-size="4.55" fill="#3a3a3a" stroke="#3a3a3a" stroke-width="0.1" text-anchor="end" y="3.08">PRS-high</text>
<line x1="107" x2="187.6" y1="177.4" y2="177.4" stroke="#888" stroke-width="0.75" stroke-dasharray="2.1 2.05"/>
<circle cx="117.6" cy="177.4" r="1.2" fill="#6cc49e"/>
<g stroke="#74abc5" stroke-width="0.7" stroke-opacity="0.9"><line x1="121.8" x2="121.8" y1="146.36" y2="190.16"/><line x1="121" x2="122.6" y1="146.36" y2="146.36"/><line x1="121" x2="122.6" y1="190.16" y2="190.16"/></g>
<circle cx="121.8" cy="174.25" r="1.2" fill="#74abc5"/>
<g stroke="#f8766d" stroke-width="0.7" stroke-opacity="0.9"><line x1="126" x2="126" y1="124.69" y2="177.02"/><line x1="125.2" x2="126.8" y1="124.69" y2="124.69"/><line x1="125.2" x2="126.8" y1="177.02" y2="177.02"/></g>
<circle cx="126" cy="153.97" r="1.2" fill="#f8766d"/>
<circle cx="142.8" cy="177.4" r="1.2" fill="#6cc49e"/>
<g stroke="#74abc5" stroke-width="0.7" stroke-opacity="0.9"><line x1="147" x2="147" y1="159.5" y2="194.31"/><line x1="146.2" x2="147.8" y1="159.5" y2="159.5"/><line x1="146.2" x2="147.8" y1="194.31" y2="194.31"/></g>
<circle cx="147" cy="181.63" r="1.2" fill="#74abc5"/>
<g stroke="#f8766d" stroke-width="0.7" stroke-opacity="0.9"><line x1="151.2" x2="151.2" y1="124.69" y2="169.41"/><line x1="150.4" x2="152" y1="124.69" y2="124.69"/><line x1="150.4" x2="152" y1="169.41" y2="169.41"/></g>
<circle cx="151.2" cy="143.36" r="1.2" fill="#f8766d"/>
<circle cx="168" cy="177.4" r="1.2" fill="#6cc49e"/>
<g stroke="#74abc5" stroke-width="0.7" stroke-opacity="0.9"><line x1="172.2" x2="172.2" y1="136.45" y2="183.25"/><line x1="171.4" x2="173" y1="136.45" y2="136.45"/><line x1="171.4" x2="173" y1="183.25" y2="183.25"/></g>
<circle cx="172.2" cy="165.49" r="1.2" fill="#74abc5"/>
<g stroke="#f8766d" stroke-width="0.7" stroke-opacity="0.9"><line x1="176.4" x2="176.4" y1="124.69" y2="157.19"/><line x1="175.6" x2="177.2" y1="124.69" y2="124.69"/><line x1="175.6" x2="177.2" y1="157.19" y2="157.19"/></g>
<circle cx="176.4" cy="127.22" r="1.2" fill="#f8766d"/>
<rect x="198.7" y="112.45" width="81" height="9.3" fill="#b3b3b3"/>
<text transform="translate(239.2,118.78) scale(1,0.9) rotate(0.01)" font-size="4.8" font-weight="bold" fill="#fff" stroke="#fff" stroke-width="0.1" text-anchor="middle">Lung</text>
<rect x="198.7" y="121.75" width="81" height="76.75" fill="none" stroke="#cfcfcf" stroke-width="1"/>
<line x1="196.9" x2="198.7" y1="194.9" y2="194.9" stroke="#9a9a9a" stroke-width="0.6"/>
<text transform="translate(196.15,196.78) scale(1,1.07) rotate(0.01)" font-size="4.4" fill="#1a1a1a" stroke="#1a1a1a" stroke-width="0.06" text-anchor="end">0.5</text>
<line x1="196.9" x2="198.7" y1="177.4" y2="177.4" stroke="#9a9a9a" stroke-width="0.6"/>
<text transform="translate(196.15,179.28) scale(1,1.07) rotate(0.01)" font-size="4.4" fill="#1a1a1a" stroke="#1a1a1a" stroke-width="0.06" text-anchor="end">1.0</text>
<line x1="196.9" x2="198.7" y1="159.9" y2="159.9" stroke="#9a9a9a" stroke-width="0.6"/>
<text transform="translate(196.15,161.78) scale(1,1.07) rotate(0.01)" font-size="4.4" fill="#1a1a1a" stroke="#1a1a1a" stroke-width="0.06" text-anchor="end">1.5</text>
<line x1="196.9" x2="198.7" y1="142.4" y2="142.4" stroke="#9a9a9a" stroke-width="0.6"/>
<text transform="translate(196.15,144.28) scale(1,1.07) rotate(0.01)" font-size="4.4" fill="#1a1a1a" stroke="#1a1a1a" stroke-width="0.06" text-anchor="end">2.0</text>
<line x1="196.9" x2="198.7" y1="124.9" y2="124.9" stroke="#9a9a9a" stroke-width="0.6"/>
<text transform="translate(196.15,126.78) scale(1,1.07) rotate(0.01)" font-size="4.4" fill="#1a1a1a" stroke="#1a1a1a" stroke-width="0.06" text-anchor="end">2.5</text>
<line x1="213.8" x2="213.8" y1="198.5" y2="200" stroke="#9a9a9a" stroke-width="0.6"/>
<text transform="translate(213.5,200.9) rotate(-45) scale(1,1.15)" font-size="4.55" fill="#3a3a3a" stroke="#3a3a3a" stroke-width="0.1" text-anchor="end" y="3.08">PRS-low</text>
<line x1="239" x2="239" y1="198.5" y2="200" stroke="#9a9a9a" stroke-width="0.6"/>
<text transform="translate(238.7,200.9) rotate(-45) scale(1,1.15)" font-size="4.55" fill="#3a3a3a" stroke="#3a3a3a" stroke-width="0.1" text-anchor="end" y="3.08">PRS-medium</text>
<line x1="264.2" x2="264.2" y1="198.5" y2="200" stroke="#9a9a9a" stroke-width="0.6"/>
<text transform="translate(263.9,200.9) rotate(-45) scale(1,1.15)" font-size="4.55" fill="#3a3a3a" stroke="#3a3a3a" stroke-width="0.1" text-anchor="end" y="3.08">PRS-high</text>
<line x1="198.7" x2="279.7" y1="177.4" y2="177.4" stroke="#888" stroke-width="0.75" stroke-dasharray="2.1 2.05"/>
<circle cx="209.6" cy="177.4" r="1.2" fill="#6cc49e"/>
<g stroke="#74abc5" stroke-width="0.7" stroke-opacity="0.9"><line x1="213.8" x2="213.8" y1="163.42" y2="180.71"/><line x1="213" x2="214.6" y1="163.42" y2="163.42"/><line x1="213" x2="214.6" y1="180.71" y2="180.71"/></g>
<circle cx="213.8" cy="172.87" r="1.2" fill="#74abc5"/>
<g stroke="#f8766d" stroke-width="0.7" stroke-opacity="0.9"><line x1="218" x2="218" y1="133.22" y2="159.27"/><line x1="217.2" x2="218.8" y1="133.22" y2="133.22"/><line x1="217.2" x2="218.8" y1="159.27" y2="159.27"/></g>
<circle cx="218" cy="147.51" r="1.2" fill="#f8766d"/>
<circle cx="234.8" cy="177.4" r="1.2" fill="#6cc49e"/>
<g stroke="#74abc5" stroke-width="0.7" stroke-opacity="0.9"><line x1="239" x2="239" y1="160.88" y2="178.17"/><line x1="238.2" x2="239.8" y1="160.88" y2="160.88"/><line x1="238.2" x2="239.8" y1="178.17" y2="178.17"/></g>
<circle cx="239" cy="169.87" r="1.2" fill="#74abc5"/>
<g stroke="#f8766d" stroke-width="0.7" stroke-opacity="0.9"><line x1="243.2" x2="243.2" y1="127.22" y2="153.28"/><line x1="242.4" x2="244" y1="127.22" y2="127.22"/><line x1="242.4" x2="244" y1="153.28" y2="153.28"/></g>
<circle cx="243.2" cy="141.52" r="1.2" fill="#f8766d"/>
<circle cx="260" cy="177.4" r="1.2" fill="#6cc49e"/>
<g stroke="#74abc5" stroke-width="0.7" stroke-opacity="0.9"><line x1="264.2" x2="264.2" y1="154.89" y2="172.41"/><line x1="263.4" x2="265" y1="154.89" y2="154.89"/><line x1="263.4" x2="265" y1="172.41" y2="172.41"/></g>
<circle cx="264.2" cy="164.34" r="1.2" fill="#74abc5"/>
<g stroke="#f8766d" stroke-width="0.7" stroke-opacity="0.9"><line x1="268.4" x2="268.4" y1="124.69" y2="146.13"/><line x1="267.6" x2="269.2" y1="124.69" y2="124.69"/><line x1="267.6" x2="269.2" y1="146.13" y2="146.13"/></g>
<circle cx="268.4" cy="134.14" r="1.2" fill="#f8766d"/>
<rect x="291" y="112.45" width="80.5" height="9.3" fill="#b3b3b3"/>
<text transform="translate(331.25,118.78) scale(1,0.9) rotate(0.01)" font-size="4.8" font-weight="bold" fill="#fff" stroke="#fff" stroke-width="0.1" text-anchor="middle">Lymphoma</text>
<rect x="291" y="121.75" width="80.5" height="76.75" fill="none" stroke="#cfcfcf" stroke-width="1"/>
<line x1="288.9" x2="291" y1="194.9" y2="194.9" stroke="#9a9a9a" stroke-width="0.6"/>
<text transform="translate(288.15,196.78) scale(1,1.07) rotate(0.01)" font-size="4.4" fill="#1a1a1a" stroke="#1a1a1a" stroke-width="0.06" text-anchor="end">0.5</text>
<line x1="288.9" x2="291" y1="177.4" y2="177.4" stroke="#9a9a9a" stroke-width="0.6"/>
<text transform="translate(288.15,179.28) scale(1,1.07) rotate(0.01)" font-size="4.4" fill="#1a1a1a" stroke="#1a1a1a" stroke-width="0.06" text-anchor="end">1.0</text>
<line x1="288.9" x2="291" y1="159.9" y2="159.9" stroke="#9a9a9a" stroke-width="0.6"/>
<text transform="translate(288.15,161.78) scale(1,1.07) rotate(0.01)" font-size="4.4" fill="#1a1a1a" stroke="#1a1a1a" stroke-width="0.06" text-anchor="end">1.5</text>
<line x1="288.9" x2="291" y1="142.4" y2="142.4" stroke="#9a9a9a" stroke-width="0.6"/>
<text transform="translate(288.15,144.28) scale(1,1.07) rotate(0.01)" font-size="4.4" fill="#1a1a1a" stroke="#1a1a1a" stroke-width="0.06" text-anchor="end">2.0</text>
<line x1="288.9" x2="291" y1="124.9" y2="124.9" stroke="#9a9a9a" stroke-width="0.6"/>
<text transform="translate(288.15,126.78) scale(1,1.07) rotate(0.01)" font-size="4.4" fill="#1a1a1a" stroke="#1a1a1a" stroke-width="0.06" text-anchor="end">2.5</text>
<line x1="305.8" x2="305.8" y1="198.5" y2="200" stroke="#9a9a9a" stroke-width="0.6"/>
<text transform="translate(305.5,200.9) rotate(-45) scale(1,1.15)" font-size="4.55" fill="#3a3a3a" stroke="#3a3a3a" stroke-width="0.1" text-anchor="end" y="3.08">PRS-low</text>
<line x1="331" x2="331" y1="198.5" y2="200" stroke="#9a9a9a" stroke-width="0.6"/>
<text transform="translate(330.7,200.9) rotate(-45) scale(1,1.15)" font-size="4.55" fill="#3a3a3a" stroke="#3a3a3a" stroke-width="0.1" text-anchor="end" y="3.08">PRS-medium</text>
<line x1="356.2" x2="356.2" y1="198.5" y2="200" stroke="#9a9a9a" stroke-width="0.6"/>
<text transform="translate(355.9,200.9) rotate(-45) scale(1,1.15)" font-size="4.55" fill="#3a3a3a" stroke="#3a3a3a" stroke-width="0.1" text-anchor="end" y="3.08">PRS-high</text>
<line x1="291" x2="371.5" y1="177.4" y2="177.4" stroke="#888" stroke-width="0.75" stroke-dasharray="2.1 2.05"/>
<circle cx="301.6" cy="177.4" r="1.2" fill="#6cc49e"/>
<g stroke="#74abc5" stroke-width="0.7" stroke-opacity="0.9"><line x1="305.8" x2="305.8" y1="153.28" y2="173.56"/><line x1="305" x2="306.6" y1="153.28" y2="153.28"/><line x1="305" x2="306.6" y1="173.56" y2="173.56"/></g>
<circle cx="305.8" cy="164.57" r="1.2" fill="#74abc5"/>
<g stroke="#f8766d" stroke-width="0.7" stroke-opacity="0.9"><line x1="310" x2="310" y1="135.52" y2="161.34"/><line x1="309.2" x2="310.8" y1="135.52" y2="135.52"/><line x1="309.2" x2="310.8" y1="161.34" y2="161.34"/></g>
<circle cx="310" cy="149.82" r="1.2" fill="#f8766d"/>
<circle cx="326.8" cy="177.4" r="1.2" fill="#6cc49e"/>
<g stroke="#74abc5" stroke-width="0.7" stroke-opacity="0.9"><line x1="331" x2="331" y1="165.49" y2="180.25"/><line x1="330.2" x2="331.8" y1="165.49" y2="165.49"/><line x1="330.2" x2="331.8" y1="180.25" y2="180.25"/></g>
<circle cx="331" cy="173.79" r="1.2" fill="#74abc5"/>
<g stroke="#f8766d" stroke-width="0.7" stroke-opacity="0.9"><line x1="335.2" x2="335.2" y1="153.28" y2="171.26"/><line x1="334.4" x2="336" y1="153.28" y2="153.28"/><line x1="334.4" x2="336" y1="171.26" y2="171.26"/></g>
<circle cx="335.2" cy="162.73" r="1.2" fill="#f8766d"/>
<circle cx="352" cy="177.4" r="1.2" fill="#6cc49e"/>
<g stroke="#74abc5" stroke-width="0.7" stroke-opacity="0.9"><line x1="356.2" x2="356.2" y1="165.26" y2="178.17"/><line x1="355.4" x2="357" y1="165.26" y2="165.26"/><line x1="355.4" x2="357" y1="178.17" y2="178.17"/></g>
<circle cx="356.2" cy="172.18" r="1.2" fill="#74abc5"/>
<g stroke="#f8766d" stroke-width="0.7" stroke-opacity="0.9"><line x1="360.4" x2="360.4" y1="158.35" y2="173.56"/><line x1="359.6" x2="361.2" y1="158.35" y2="158.35"/><line x1="359.6" x2="361.2" y1="173.56" y2="173.56"/></g>
<circle cx="360.4" cy="166.42" r="1.2" fill="#f8766d"/>
<rect x="383" y="112.45" width="80.5" height="9.3" fill="#b3b3b3"/>
<text transform="translate(423.25,118.78) scale(1,0.9) rotate(0.01)" font-size="4.8" font-weight="bold" fill="#fff" stroke="#fff" stroke-width="0.1" text-anchor="middle">Myeloma</text>
<rect x="383" y="121.75" width="80.5" height="76.75" fill="none" stroke="#cfcfcf" stroke-width="1"/>
<line x1="380.9" x2="383" y1="194.9" y2="194.9" stroke="#9a9a9a" stroke-width="0.6"/>
<text transform="translate(380.15,196.78) scale(1,1.07) rotate(0.01)" font-size="4.4" fill="#1a1a1a" stroke="#1a1a1a" stroke-width="0.06" text-anchor="end">0.5</text>
<line x1="380.9" x2="383" y1="177.4" y2="177.4" stroke="#9a9a9a" stroke-width="0.6"/>
<text transform="translate(380.15,179.28) scale(1,1.07) rotate(0.01)" font-size="4.4" fill="#1a1a1a" stroke="#1a1a1a" stroke-width="0.06" text-anchor="end">1.0</text>
<line x1="380.9" x2="383" y1="159.9" y2="159.9" stroke="#9a9a9a" stroke-width="0.6"/>
<text transform="translate(380.15,161.78) scale(1,1.07) rotate(0.01)" font-size="4.4" fill="#1a1a1a" stroke="#1a1a1a" stroke-width="0.06" text-anchor="end">1.5</text>
<line x1="380.9" x2="383" y1="142.4" y2="142.4" stroke="#9a9a9a" stroke-width="0.6"/>
<text transform="translate(380.15,144.28) scale(1,1.07) rotate(0.01)" font-size="4.4" fill="#1a1a1a" stroke="#1a1a1a" stroke-width="0.06" text-anchor="end">2.0</text>
<line x1="380.9" x2="383" y1="124.9" y2="124.9" stroke="#9a9a9a" stroke-width="0.6"/>
<text transform="translate(380.15,126.78) scale(1,1.07) rotate(0.01)" font-size="4.4" fill="#1a1a1a" stroke="#1a1a1a" stroke-width="0.06" text-anchor="end">2.5</text>
<line x1="397.8" x2="397.8" y1="198.5" y2="200" stroke="#9a9a9a" stroke-width="0.6"/>
<text transform="translate(397.5,200.9) rotate(-45) scale(1,1.15)" font-size="4.55" fill="#3a3a3a" stroke="#3a3a3a" stroke-width="0.1" text-anchor="end" y="3.08">PRS-low</text>
<line x1="423" x2="423" y1="198.5" y2="200" stroke="#9a9a9a" stroke-width="0.6"/>
<text transform="translate(422.7,200.9) rotate(-45) scale(1,1.15)" font-size="4.55" fill="#3a3a3a" stroke="#3a3a3a" stroke-width="0.1" text-anchor="end" y="3.08">PRS-medium</text>
<line x1="448.2" x2="448.2" y1="198.5" y2="200" stroke="#9a9a9a" stroke-width="0.6"/>
<text transform="translate(447.9,200.9) rotate(-45) scale(1,1.15)" font-size="4.55" fill="#3a3a3a" stroke="#3a3a3a" stroke-width="0.1" text-anchor="end" y="3.08">PRS-high</text>
<line x1="383" x2="463.5" y1="177.4" y2="177.4" stroke="#888" stroke-width="0.75" stroke-dasharray="2.1 2.05"/>
<circle cx="393.6" cy="177.4" r="1.2" fill="#6cc49e"/>
<g stroke="#74abc5" stroke-width="0.7" stroke-opacity="0.9"><line x1="397.8" x2="397.8" y1="175.18" y2="194.77"/><line x1="397" x2="398.6" y1="175.18" y2="175.18"/><line x1="397" x2="398.6" y1="194.77" y2="194.77"/></g>
<circle cx="397.8" cy="187.86" r="1.2" fill="#74abc5"/>
<g stroke="#f8766d" stroke-width="0.7" stroke-opacity="0.9"><line x1="402" x2="402" y1="158.35" y2="188.32"/><line x1="401.2" x2="402.8" y1="158.35" y2="158.35"/><line x1="401.2" x2="402.8" y1="188.32" y2="188.32"/></g>
<circle cx="402" cy="175.87" r="1.2" fill="#f8766d"/>
<circle cx="418.8" cy="177.4" r="1.2" fill="#6cc49e"/>
<g stroke="#74abc5" stroke-width="0.7" stroke-opacity="0.9"><line x1="423" x2="423" y1="165.49" y2="188.32"/><line x1="422.2" x2="423.8" y1="165.49" y2="165.49"/><line x1="422.2" x2="423.8" y1="188.32" y2="188.32"/></g>
<circle cx="423" cy="178.63" r="1.2" fill="#74abc5"/>
<g stroke="#f8766d" stroke-width="0.7" stroke-opacity="0.9"><line x1="427.2" x2="427.2" y1="160.42" y2="185.55"/><line x1="426.4" x2="428" y1="160.42" y2="160.42"/><line x1="426.4" x2="428" y1="185.55" y2="185.55"/></g>
<circle cx="427.2" cy="175.18" r="1.2" fill="#f8766d"/>
<circle cx="444" cy="177.4" r="1.2" fill="#6cc49e"/>
<g stroke="#74abc5" stroke-width="0.7" stroke-opacity="0.9"><line x1="448.2" x2="448.2" y1="166.65" y2="186.24"/><line x1="447.4" x2="449" y1="166.65" y2="166.65"/><line x1="447.4" x2="449" y1="186.24" y2="186.24"/></g>
<circle cx="448.2" cy="177.71" r="1.2" fill="#74abc5"/>
<g stroke="#f8766d" stroke-width="0.7" stroke-opacity="0.9"><line x1="452.4" x2="452.4" y1="156.27" y2="179.79"/><line x1="451.6" x2="453.2" y1="156.27" y2="156.27"/><line x1="451.6" x2="453.2" y1="179.79" y2="179.79"/></g>
<circle cx="452.4" cy="169.64" r="1.2" fill="#f8766d"/>
<rect x="474.6" y="112.45" width="80.9" height="9.3" fill="#b3b3b3"/>
<text transform="translate(515.05,118.78) scale(1,0.9) rotate(0.01)" font-size="4.8" font-weight="bold" fill="#fff" stroke="#fff" stroke-width="0.1" text-anchor="middle">Oesophagus</text>
<rect x="474.6" y="121.75" width="80.9" height="76.75" fill="none" stroke="#cfcfcf" stroke-width="1"/>
<line x1="472.9" x2="474.6" y1="194.9" y2="194.9" stroke="#9a9a9a" stroke-width="0.6"/>
<text transform="translate(472.15,196.78) scale(1,1.07) rotate(0.01)" font-size="4.4" fill="#1a1a1a" stroke="#1a1a1a" stroke-width="0.06" text-anchor="end">0.5</text>
<line x1="472.9" x2="474.6" y1="177.4" y2="177.4" stroke="#9a9a9a" stroke-width="0.6"/>
<text transform="translate(472.15,179.28) scale(1,1.07) rotate(0.01)" font-size="4.4" fill="#1a1a1a" stroke="#1a1a1a" stroke-width="0.06" text-anchor="end">1.0</text>
<line x1="472.9" x2="474.6" y1="159.9" y2="159.9" stroke="#9a9a9a" stroke-width="0.6"/>
<text transform="translate(472.15,161.78) scale(1,1.07) rotate(0.01)" font-size="4.4" fill="#1a1a1a" stroke="#1a1a1a" stroke-width="0.06" text-anchor="end">1.5</text>
<line x1="472.9" x2="474.6" y1="142.4" y2="142.4" stroke="#9a9a9a" stroke-width="0.6"/>
<text transform="translate(472.15,144.28) scale(1,1.07) rotate(0.01)" font-size="4.4" fill="#1a1a1a" stroke="#1a1a1a" stroke-width="0.06" text-anchor="end">2.0</text>
<line x1="472.9" x2="474.6" y1="124.9" y2="124.9" stroke="#9a9a9a" stroke-width="0.6"/>
<text transform="translate(472.15,126.78) scale(1,1.07) rotate(0.01)" font-size="4.4" fill="#1a1a1a" stroke="#1a1a1a" stroke-width="0.06" text-anchor="end">2.5</text>
<line x1="489.8" x2="489.8" y1="198.5" y2="200" stroke="#9a9a9a" stroke-width="0.6"/>
<text transform="translate(489.5,200.9) rotate(-45) scale(1,1.15)" font-size="4.55" fill="#3a3a3a" stroke="#3a3a3a" stroke-width="0.1" text-anchor="end" y="3.08">PRS-low</text>
<line x1="515" x2="515" y1="198.5" y2="200" stroke="#9a9a9a" stroke-width="0.6"/>
<text transform="translate(514.7,200.9) rotate(-45) scale(1,1.15)" font-size="4.55" fill="#3a3a3a" stroke="#3a3a3a" stroke-width="0.1" text-anchor="end" y="3.08">PRS-medium</text>
<line x1="540.2" x2="540.2" y1="198.5" y2="200" stroke="#9a9a9a" stroke-width="0.6"/>
<text transform="translate(539.9,200.9) rotate(-45) scale(1,1.15)" font-size="4.55" fill="#3a3a3a" stroke="#3a3a3a" stroke-width="0.1" text-anchor="end" y="3.08">PRS-high</text>
<line x1="474.6" x2="555.5" y1="177.4" y2="177.4" stroke="#888" stroke-width="0.75" stroke-dasharray="2.1 2.05"/>
<circle cx="485.6" cy="177.4" r="1.2" fill="#6cc49e"/>
<g stroke="#74abc5" stroke-width="0.7" stroke-opacity="0.9"><line x1="489.8" x2="489.8" y1="134.14" y2="175.41"/><line x1="489" x2="490.6" y1="134.14" y2="134.14"/><line x1="489" x2="490.6" y1="175.41" y2="175.41"/></g>
<circle cx="489.8" cy="157.89" r="1.2" fill="#74abc5"/>
<g stroke="#f8766d" stroke-width="0.7" stroke-opacity="0.9"><line x1="494" x2="494" y1="124.69" y2="168.49"/><line x1="493.2" x2="494.8" y1="124.69" y2="124.69"/><line x1="493.2" x2="494.8" y1="168.49" y2="168.49"/></g>
<circle cx="494" cy="149.36" r="1.2" fill="#f8766d"/>
<circle cx="510.8" cy="177.4" r="1.2" fill="#6cc49e"/>
<g stroke="#74abc5" stroke-width="0.7" stroke-opacity="0.9"><line x1="515" x2="515" y1="150.51" y2="181.4"/><line x1="514.2" x2="515.8" y1="150.51" y2="150.51"/><line x1="514.2" x2="515.8" y1="181.4" y2="181.4"/></g>
<circle cx="515" cy="168.49" r="1.2" fill="#74abc5"/>
<g stroke="#f8766d" stroke-width="0.7" stroke-opacity="0.9"><line x1="519.2" x2="519.2" y1="134.83" y2="172.18"/><line x1="518.4" x2="520" y1="134.83" y2="134.83"/><line x1="518.4" x2="520" y1="172.18" y2="172.18"/></g>
<circle cx="519.2" cy="156.73" r="1.2" fill="#f8766d"/>
<circle cx="536" cy="177.4" r="1.2" fill="#6cc49e"/>
<g stroke="#74abc5" stroke-width="0.7" stroke-opacity="0.9"><line x1="540.2" x2="540.2" y1="151.2" y2="180.48"/><line x1="539.4" x2="541" y1="151.2" y2="151.2"/><line x1="539.4" x2="541" y1="180.48" y2="180.48"/></g>
<circle cx="540.2" cy="168.03" r="1.2" fill="#74abc5"/>
<g stroke="#f8766d" stroke-width="0.7" stroke-opacity="0.9"><line x1="544.4" x2="544.4" y1="124.69" y2="164.8"/><line x1="543.6" x2="545.2" y1="124.69" y2="124.69"/><line x1="543.6" x2="545.2" y1="164.8" y2="164.8"/></g>
<circle cx="544.4" cy="147.97" r="1.2" fill="#f8766d"/>
<rect x="566.5" y="112.45" width="81" height="9.3" fill="#b3b3b3"/>
<text transform="translate(607,118.78) scale(1,0.9) rotate(0.01)" font-size="4.8" font-weight="bold" fill="#fff" stroke="#fff" stroke-width="0.1" text-anchor="middle">Oral Cavity and Pharynx</text>
<rect x="566.5" y="121.75" width="81" height="76.75" fill="none" stroke="#cfcfcf" stroke-width="1"/>
<line x1="564.9" x2="566.5" y1="194.9" y2="194.9" stroke="#9a9a9a" stroke-width="0.6"/>
<text transform="translate(564.15,196.78) scale(1,1.07) rotate(0.01)" font-size="4.4" fill="#1a1a1a" stroke="#1a1a1a" stroke-width="0.06" text-anchor="end">0.5</text>
<line x1="564.9" x2="566.5" y1="177.4" y2="177.4" stroke="#9a9a9a" stroke-width="0.6"/>
<text transform="translate(564.15,179.28) scale(1,1.07) rotate(0.01)" font-size="4.4" fill="#1a1a1a" stroke="#1a1a1a" stroke-width="0.06" text-anchor="end">1.0</text>
<line x1="564.9" x2="566.5" y1="159.9" y2="159.9" stroke="#9a9a9a" stroke-width="0.6"/>
<text transform="translate(564.15,161.78) scale(1,1.07) rotate(0.01)" font-size="4.4" fill="#1a1a1a" stroke="#1a1a1a" stroke-width="0.06" text-anchor="end">1.5</text>
<line x1="564.9" x2="566.5" y1="142.4" y2="142.4" stroke="#9a9a9a" stroke-width="0.6"/>
<text transform="translate(564.15,144.28) scale(1,1.07) rotate(0.01)" font-size="4.4" fill="#1a1a1a" stroke="#1a1a1a" stroke-width="0.06" text-anchor="end">2.0</text>
<line x1="564.9" x2="566.5" y1="124.9" y2="124.9" stroke="#9a9a9a" stroke-width="0.6"/>
<text transform="translate(564.15,126.78) scale(1,1.07) rotate(0.01)" font-size="4.4" fill="#1a1a1a" stroke="#1a1a1a" stroke-width="0.06" text-anchor="end">2.5</text>
<line x1="581.8" x2="581.8" y1="198.5" y2="200" stroke="#9a9a9a" stroke-width="0.6"/>
<text transform="translate(581.5,200.9) rotate(-45) scale(1,1.15)" font-size="4.55" fill="#3a3a3a" stroke="#3a3a3a" stroke-width="0.1" text-anchor="end" y="3.08">PRS-low</text>
<line x1="607" x2="607" y1="198.5" y2="200" stroke="#9a9a9a" stroke-width="0.6"/>
<text transform="translate(606.7,200.9) rotate(-45) scale(1,1.15)" font-size="4.55" fill="#3a3a3a" stroke="#3a3a3a" stroke-width="0.1" text-anchor="end" y="3.08">PRS-medium</text>
<line x1="632.2" x2="632.2" y1="198.5" y2="200" stroke="#9a9a9a" stroke-width="0.6"/>
<text transform="translate(631.9,200.9) rotate(-45) scale(1,1.15)" font-size="4.55" fill="#3a3a3a" stroke="#3a3a3a" stroke-width="0.1" text-anchor="end" y="3.08">PRS-high</text>
<line x1="566.5" x2="647.5" y1="177.4" y2="177.4" stroke="#888" stroke-width="0.75" stroke-dasharray="2.1 2.05"/>
<circle cx="577.6" cy="177.4" r="1.2" fill="#6cc49e"/>
<g stroke="#74abc5" stroke-width="0.7" stroke-opacity="0.9"><line x1="581.8" x2="581.8" y1="154.43" y2="181.4"/><line x1="581" x2="582.6" y1="154.43" y2="154.43"/><line x1="581" x2="582.6" y1="181.4" y2="181.4"/></g>
<circle cx="581.8" cy="169.87" r="1.2" fill="#74abc5"/>
<g stroke="#f8766d" stroke-width="0.7" stroke-opacity="0.9"><line x1="586" x2="586" y1="130.68" y2="167.57"/><line x1="585.2" x2="586.8" y1="130.68" y2="130.68"/><line x1="585.2" x2="586.8" y1="167.57" y2="167.57"/></g>
<circle cx="586" cy="151.66" r="1.2" fill="#f8766d"/>
<circle cx="602.8" cy="177.4" r="1.2" fill="#6cc49e"/>
<g stroke="#74abc5" stroke-width="0.7" stroke-opacity="0.9"><line x1="607" x2="607" y1="173.1" y2="190.85"/><line x1="606.2" x2="607.8" y1="173.1" y2="173.1"/><line x1="606.2" x2="607.8" y1="190.85" y2="190.85"/></g>
<circle cx="607" cy="183.01" r="1.2" fill="#74abc5"/>
<g stroke="#f8766d" stroke-width="0.7" stroke-opacity="0.9"><line x1="611.2" x2="611.2" y1="152.81" y2="177.94"/><line x1="610.4" x2="612" y1="152.81" y2="152.81"/><line x1="610.4" x2="612" y1="177.94" y2="177.94"/></g>
<circle cx="611.2" cy="167.34" r="1.2" fill="#f8766d"/>
<circle cx="628" cy="177.4" r="1.2" fill="#6cc49e"/>
<g stroke="#74abc5" stroke-width="0.7" stroke-opacity="0.9"><line x1="632.2" x2="632.2" y1="159.5" y2="182.32"/><line x1="631.4" x2="633" y1="159.5" y2="159.5"/><line x1="631.4" x2="633" y1="182.32" y2="182.32"/></g>
<circle cx="632.2" cy="172.64" r="1.2" fill="#74abc5"/>
<g stroke="#f8766d" stroke-width="0.7" stroke-opacity="0.9"><line x1="636.4" x2="636.4" y1="150.51" y2="177.48"/><line x1="635.6" x2="637.2" y1="150.51" y2="150.51"/><line x1="635.6" x2="637.2" y1="177.48" y2="177.48"/></g>
<circle cx="636.4" cy="165.72" r="1.2" fill="#f8766d"/>
<rect x="14.5" y="224.7" width="81" height="9.25" fill="#b3b3b3"/>
<text transform="translate(55,231.16) scale(1,0.9) rotate(0.01)" font-size="4.8" font-weight="bold" fill="#fff" stroke="#fff" stroke-width="0.1" text-anchor="middle">Ovary</text>
<rect x="14.5" y="233.95" width="81" height="76.65" fill="none" stroke="#cfcfcf" stroke-width="1"/>
<line x1="12.9" x2="14.5" y1="307" y2="307" stroke="#9a9a9a" stroke-width="0.6"/>
<text transform="translate(12.15,308.88) scale(1,1.07) rotate(0.01)" font-size="4.4" fill="#1a1a1a" stroke="#1a1a1a" stroke-width="0.06" text-anchor="end">0.5</text>
<line x1="12.9" x2="14.5" y1="289.5" y2="289.5" stroke="#9a9a9a" stroke-width="0.6"/>
<text transform="translate(12.15,291.38) scale(1,1.07) rotate(0.01)" font-size="4.4" fill="#1a1a1a" stroke="#1a1a1a" stroke-width="0.06" text-anchor="end">1.0</text>
<line x1="12.9" x2="14.5" y1="272" y2="272" stroke="#9a9a9a" stroke-width="0.6"/>
<text transform="translate(12.15,273.88) scale(1,1.07) rotate(0.01)" font-size="4.4" fill="#1a1a1a" stroke="#1a1a1a" stroke-width="0.06" text-anchor="end">1.5</text>
<line x1="12.9" x2="14.5" y1="254.5" y2="254.5" stroke="#9a9a9a" stroke-width="0.6"/>
<text transform="translate(12.15,256.38) scale(1,1.07) rotate(0.01)" font-size="4.4" fill="#1a1a1a" stroke="#1a1a1a" stroke-width="0.06" text-anchor="end">2.0</text>
<line x1="12.9" x2="14.5" y1="237" y2="237" stroke="#9a9a9a" stroke-width="0.6"/>
<text transform="translate(12.15,238.88) scale(1,1.07) rotate(0.01)" font-size="4.4" fill="#1a1a1a" stroke="#1a1a1a" stroke-width="0.06" text-anchor="end">2.5</text>
<line x1="29.8" x2="29.8" y1="310.6" y2="312.1" stroke="#9a9a9a" stroke-width="0.6"/>
<text transform="translate(29.5,313) rotate(-45) scale(1,1.15)" font-size="4.55" fill="#3a3a3a" stroke="#3a3a3a" stroke-width="0.1" text-anchor="end" y="3.08">PRS-low</text>
<line x1="55" x2="55" y1="310.6" y2="312.1" stroke="#9a9a9a" stroke-width="0.6"/>
<text transform="translate(54.7,313) rotate(-45) scale(1,1.15)" font-size="4.55" fill="#3a3a3a" stroke="#3a3a3a" stroke-width="0.1" text-anchor="end" y="3.08">PRS-medium</text>
<line x1="80.2" x2="80.2" y1="310.6" y2="312.1" stroke="#9a9a9a" stroke-width="0.6"/>
<text transform="translate(79.9,313) rotate(-45) scale(1,1.15)" font-size="4.55" fill="#3a3a3a" stroke="#3a3a3a" stroke-width="0.1" text-anchor="end" y="3.08">PRS-high</text>
<line x1="14.5" x2="95.5" y1="289.5" y2="289.5" stroke="#888" stroke-width="0.75" stroke-dasharray="2.1 2.05"/>
<circle cx="25.6" cy="289.5" r="1.2" fill="#6cc49e"/>
<g stroke="#74abc5" stroke-width="0.7" stroke-opacity="0.9"><line x1="29.8" x2="29.8" y1="280.26" y2="299.16"/><line x1="29" x2="30.6" y1="280.26" y2="280.26"/><line x1="29" x2="30.6" y1="299.16" y2="299.16"/></g>
<circle cx="29.8" cy="290.63" r="1.2" fill="#74abc5"/>
<g stroke="#f8766d" stroke-width="0.7" stroke-opacity="0.9"><line x1="34" x2="34" y1="269.89" y2="292.48"/><line x1="33.2" x2="34.8" y1="269.89" y2="269.89"/><line x1="33.2" x2="34.8" y1="292.48" y2="292.48"/></g>
<circle cx="34" cy="282.57" r="1.2" fill="#f8766d"/>
<circle cx="50.8" cy="289.5" r="1.2" fill="#6cc49e"/>
<g stroke="#74abc5" stroke-width="0.7" stroke-opacity="0.9"><line x1="55" x2="55" y1="272.65" y2="293.4"/><line x1="54.2" x2="55.8" y1="272.65" y2="272.65"/><line x1="54.2" x2="55.8" y1="293.4" y2="293.4"/></g>
<circle cx="55" cy="284.18" r="1.2" fill="#74abc5"/>
<g stroke="#f8766d" stroke-width="0.7" stroke-opacity="0.9"><line x1="59.2" x2="59.2" y1="272.19" y2="293.17"/><line x1="58.4" x2="60" y1="272.19" y2="272.19"/><line x1="58.4" x2="60" y1="293.17" y2="293.17"/></g>
<circle cx="59.2" cy="283.72" r="1.2" fill="#f8766d"/>
<circle cx="76" cy="289.5" r="1.2" fill="#6cc49e"/>
<g stroke="#74abc5" stroke-width="0.7" stroke-opacity="0.9"><line x1="80.2" x2="80.2" y1="280.95" y2="297.55"/><line x1="79.4" x2="81" y1="280.95" y2="280.95"/><line x1="79.4" x2="81" y1="297.55" y2="297.55"/></g>
<circle cx="80.2" cy="289.94" r="1.2" fill="#74abc5"/>
<g stroke="#f8766d" stroke-width="0.7" stroke-opacity="0.9"><line x1="84.4" x2="84.4" y1="270.35" y2="290.17"/><line x1="83.6" x2="85.2" y1="270.35" y2="270.35"/><line x1="83.6" x2="85.2" y1="290.17" y2="290.17"/></g>
<circle cx="84.4" cy="281.64" r="1.2" fill="#f8766d"/>
<rect x="107" y="224.7" width="80.6" height="9.25" fill="#b3b3b3"/>
<text transform="translate(147.3,231.16) scale(1,0.9) rotate(0.01)" font-size="4.8" font-weight="bold" fill="#fff" stroke="#fff" stroke-width="0.1" text-anchor="middle">Pancreas</text>
<rect x="107" y="233.95" width="80.6" height="76.65" fill="none" stroke="#cfcfcf" stroke-width="1"/>
<line x1="104.9" x2="107" y1="307" y2="307" stroke="#9a9a9a" stroke-width="0.6"/>
<text transform="translate(104.15,308.88) scale(1,1.07) rotate(0.01)" font-size="4.4" fill="#1a1a1a" stroke="#1a1a1a" stroke-width="0.06" text-anchor="end">0.5</text>
<line x1="104.9" x2="107" y1="289.5" y2="289.5" stroke="#9a9a9a" stroke-width="0.6"/>
<text transform="translate(104.15,291.38) scale(1,1.07) rotate(0.01)" font-size="4.4" fill="#1a1a1a" stroke="#1a1a1a" stroke-width="0.06" text-anchor="end">1.0</text>
<line x1="104.9" x2="107" y1="272" y2="272" stroke="#9a9a9a" stroke-width="0.6"/>
<text transform="translate(104.15,273.88) scale(1,1.07) rotate(0.01)" font-size="4.4" fill="#1a1a1a" stroke="#1a1a1a" stroke-width="0.06" text-anchor="end">1.5</text>
<line x1="104.9" x2="107" y1="254.5" y2="254.5" stroke="#9a9a9a" stroke-width="0.6"/>
<text transform="translate(104.15,256.38) scale(1,1.07) rotate(0.01)" font-size="4.4" fill="#1a1a1a" stroke="#1a1a1a" stroke-width="0.06" text-anchor="end">2.0</text>
<line x1="104.9" x2="107" y1="237" y2="237" stroke="#9a9a9a" stroke-width="0.6"/>
<text transform="translate(104.15,238.88) scale(1,1.07) rotate(0.01)" font-size="4.4" fill="#1a1a1a" stroke="#1a1a1a" stroke-width="0.06" text-anchor="end">2.5</text>
<line x1="121.8" x2="121.8" y1="310.6" y2="312.1" stroke="#9a9a9a" stroke-width="0.6"/>
<text transform="translate(121.5,313) rotate(-45) scale(1,1.15)" font-size="4.55" fill="#3a3a3a" stroke="#3a3a3a" stroke-width="0.1" text-anchor="end" y="3.08">PRS-low</text>
<line x1="147" x2="147" y1="310.6" y2="312.1" stroke="#9a9a9a" stroke-width="0.6"/>
<text transform="translate(146.7,313) rotate(-45) scale(1,1.15)" font-size="4.55" fill="#3a3a3a" stroke="#3a3a3a" stroke-width="0.1" text-anchor="end" y="3.08">PRS-medium</text>
<line x1="172.2" x2="172.2" y1="310.6" y2="312.1" stroke="#9a9a9a" stroke-width="0.6"/>
<text transform="translate(171.9,313) rotate(-45) scale(1,1.15)" font-size="4.55" fill="#3a3a3a" stroke="#3a3a3a" stroke-width="0.1" text-anchor="end" y="3.08">PRS-high</text>
<line x1="107" x2="187.6" y1="289.5" y2="289.5" stroke="#888" stroke-width="0.75" stroke-dasharray="2.1 2.05"/>
<circle cx="117.6" cy="289.5" r="1.2" fill="#6cc49e"/>
<g stroke="#74abc5" stroke-width="0.7" stroke-opacity="0.9"><line x1="121.8" x2="121.8" y1="266.43" y2="297.78"/><line x1="121" x2="122.6" y1="266.43" y2="266.43"/><line x1="121" x2="122.6" y1="297.78" y2="297.78"/></g>
<circle cx="121.8" cy="285.1" r="1.2" fill="#74abc5"/>
<g stroke="#f8766d" stroke-width="0.7" stroke-opacity="0.9"><line x1="126" x2="126" y1="254.21" y2="291.56"/><line x1="125.2" x2="126.8" y1="254.21" y2="254.21"/><line x1="125.2" x2="126.8" y1="291.56" y2="291.56"/></g>
<circle cx="126" cy="275.88" r="1.2" fill="#f8766d"/>
<circle cx="142.8" cy="289.5" r="1.2" fill="#6cc49e"/>
<g stroke="#74abc5" stroke-width="0.7" stroke-opacity="0.9"><line x1="147" x2="147" y1="275.88" y2="298.24"/><line x1="146.2" x2="147.8" y1="275.88" y2="275.88"/><line x1="146.2" x2="147.8" y1="298.24" y2="298.24"/></g>
<circle cx="147" cy="288.56" r="1.2" fill="#74abc5"/>
<g stroke="#f8766d" stroke-width="0.7" stroke-opacity="0.9"><line x1="151.2" x2="151.2" y1="264.12" y2="290.63"/><line x1="150.4" x2="152" y1="264.12" y2="264.12"/><line x1="150.4" x2="152" y1="290.63" y2="290.63"/></g>
<circle cx="151.2" cy="279.34" r="1.2" fill="#f8766d"/>
<circle cx="168" cy="289.5" r="1.2" fill="#6cc49e"/>
<g stroke="#74abc5" stroke-width="0.7" stroke-opacity="0.9"><line x1="172.2" x2="172.2" y1="270.35" y2="292.48"/><line x1="171.4" x2="173" y1="270.35" y2="270.35"/><line x1="171.4" x2="173" y1="292.48" y2="292.48"/></g>
<circle cx="172.2" cy="282.8" r="1.2" fill="#74abc5"/>
<g stroke="#f8766d" stroke-width="0.7" stroke-opacity="0.9"><line x1="176.4" x2="176.4" y1="256.98" y2="284.41"/><line x1="175.6" x2="177.2" y1="256.98" y2="256.98"/><line x1="175.6" x2="177.2" y1="284.41" y2="284.41"/></g>
<circle cx="176.4" cy="272.42" r="1.2" fill="#f8766d"/>
<rect x="198.7" y="224.7" width="81" height="9.25" fill="#b3b3b3"/>
<text transform="translate(239.2,231.16) scale(1,0.9) rotate(0.01)" font-size="4.8" font-weight="bold" fill="#fff" stroke="#fff" stroke-width="0.1" text-anchor="middle">Prostate</text>
<rect x="198.7" y="233.95" width="81" height="76.65" fill="none" stroke="#cfcfcf" stroke-width="1"/>
<line x1="196.9" x2="198.7" y1="307" y2="307" stroke="#9a9a9a" stroke-width="0.6"/>
<text transform="translate(196.15,308.88) scale(1,1.07) rotate(0.01)" font-size="4.4" fill="#1a1a1a" stroke="#1a1a1a" stroke-width="0.06" text-anchor="end">0.5</text>
<line x1="196.9" x2="198.7" y1="289.5" y2="289.5" stroke="#9a9a9a" stroke-width="0.6"/>
<text transform="translate(196.15,291.38) scale(1,1.07) rotate(0.01)" font-size="4.4" fill="#1a1a1a" stroke="#1a1a1a" stroke-width="0.06" text-anchor="end">1.0</text>
<line x1="196.9" x2="198.7" y1="272" y2="272" stroke="#9a9a9a" stroke-width="0.6"/>
<text transform="translate(196.15,273.88) scale(1,1.07) rotate(0.01)" font-size="4.4" fill="#1a1a1a" stroke="#1a1a1a" stroke-width="0.06" text-anchor="end">1.5</text>
<line x1="196.9" x2="198.7" y1="254.5" y2="254.5" stroke="#9a9a9a" stroke-width="0.6"/>
<text transform="translate(196.15,256.38) scale(1,1.07) rotate(0.01)" font-size="4.4" fill="#1a1a1a" stroke="#1a1a1a" stroke-width="0.06" text-anchor="end">2.0</text>
<line x1="196.9" x2="198.7" y1="237" y2="237" stroke="#9a9a9a" stroke-width="0.6"/>
<text transform="translate(196.15,238.88) scale(1,1.07) rotate(0.01)" font-size="4.4" fill="#1a1a1a" stroke="#1a1a1a" stroke-width="0.06" text-anchor="end">2.5</text>
<line x1="213.8" x2="213.8" y1="310.6" y2="312.1" stroke="#9a9a9a" stroke-width="0.6"/>
<text transform="translate(213.5,313) rotate(-45) scale(1,1.15)" font-size="4.55" fill="#3a3a3a" stroke="#3a3a3a" stroke-width="0.1" text-anchor="end" y="3.08">PRS-low</text>
<line x1="239" x2="239" y1="310.6" y2="312.1" stroke="#9a9a9a" stroke-width="0.6"/>
<text transform="translate(238.7,313) rotate(-45) scale(1,1.15)" font-size="4.55" fill="#3a3a3a" stroke="#3a3a3a" stroke-width="0.1" text-anchor="end" y="3.08">PRS-medium</text>
<line x1="264.2" x2="264.2" y1="310.6" y2="312.1" stroke="#9a9a9a" stroke-width="0.6"/>
<text transform="translate(263.9,313) rotate(-45) scale(1,1.15)" font-size="4.55" fill="#3a3a3a" stroke="#3a3a3a" stroke-width="0.1" text-anchor="end" y="3.08">PRS-high</text>
<line x1="198.7" x2="279.7" y1="289.5" y2="289.5" stroke="#888" stroke-width="0.75" stroke-dasharray="2.1 2.05"/>
<circle cx="209.6" cy="289.5" r="1.2" fill="#6cc49e"/>
<g stroke="#74abc5" stroke-width="0.7" stroke-opacity="0.9"><line x1="213.8" x2="213.8" y1="286.53" y2="293"/><line x1="213" x2="214.6" y1="286.53" y2="286.53"/><line x1="213" x2="214.6" y1="293" y2="293"/></g>
<circle cx="213.8" cy="289.77" r="1.2" fill="#74abc5"/>
<g stroke="#f8766d" stroke-width="0.7" stroke-opacity="0.9"><line x1="218" x2="218" y1="282.58" y2="290.36"/><line x1="217.2" x2="218.8" y1="282.58" y2="282.58"/><line x1="217.2" x2="218.8" y1="290.36" y2="290.36"/></g>
<circle cx="218" cy="286.29" r="1.2" fill="#f8766d"/>
<circle cx="234.8" cy="289.5" r="1.2" fill="#6cc49e"/>
<g stroke="#74abc5" stroke-width="0.7" stroke-opacity="0.9"><line x1="239" x2="239" y1="284.38" y2="290.6"/><line x1="238.2" x2="239.8" y1="284.38" y2="284.38"/><line x1="238.2" x2="239.8" y1="290.6" y2="290.6"/></g>
<circle cx="239" cy="287.25" r="1.2" fill="#74abc5"/>
<g stroke="#f8766d" stroke-width="0.7" stroke-opacity="0.9"><line x1="243.2" x2="243.2" y1="283.42" y2="290.6"/><line x1="242.4" x2="244" y1="283.42" y2="283.42"/><line x1="242.4" x2="244" y1="290.6" y2="290.6"/></g>
<circle cx="243.2" cy="286.77" r="1.2" fill="#f8766d"/>
<circle cx="260" cy="289.5" r="1.2" fill="#6cc49e"/>
<g stroke="#74abc5" stroke-width="0.7" stroke-opacity="0.9"><line x1="264.2" x2="264.2" y1="285.58" y2="291.32"/><line x1="263.4" x2="265" y1="285.58" y2="285.58"/><line x1="263.4" x2="265" y1="291.32" y2="291.32"/></g>
<circle cx="264.2" cy="288.33" r="1.2" fill="#74abc5"/>
<g stroke="#f8766d" stroke-width="0.7" stroke-opacity="0.9"><line x1="268.4" x2="268.4" y1="283.42" y2="288.57"/><line x1="267.6" x2="269.2" y1="283.42" y2="283.42"/><line x1="267.6" x2="269.2" y1="288.57" y2="288.57"/></g>
<circle cx="268.4" cy="286.29" r="1.2" fill="#f8766d"/>
<rect x="291" y="224.7" width="80.5" height="9.25" fill="#b3b3b3"/>
<text transform="translate(331.25,231.16) scale(1,0.9) rotate(0.01)" font-size="4.8" font-weight="bold" fill="#fff" stroke="#fff" stroke-width="0.1" text-anchor="middle">Skin Melanoma</text>
<rect x="291" y="233.95" width="80.5" height="76.65" fill="none" stroke="#cfcfcf" stroke-width="1"/>
<line x1="288.9" x2="291" y1="307" y2="307" stroke="#9a9a9a" stroke-width="0.6"/>
<text transform="translate(288.15,308.88) scale(1,1.07) rotate(0.01)" font-size="4.4" fill="#1a1a1a" stroke="#1a1a1a" stroke-width="0.06" text-anchor="end">0.5</text>
<line x1="288.9" x2="291" y1="289.5" y2="289.5" stroke="#9a9a9a" stroke-width="0.6"/>
<text transform="translate(288.15,291.38) scale(1,1.07) rotate(0.01)" font-size="4.4" fill="#1a1a1a" stroke="#1a1a1a" stroke-width="0.06" text-anchor="end">1.0</text>
<line x1="288.9" x2="291" y1="272" y2="272" stroke="#9a9a9a" stroke-width="0.6"/>
<text transform="translate(288.15,273.88) scale(1,1.07) rotate(0.01)" font-size="4.4" fill="#1a1a1a" stroke="#1a1a1a" stroke-width="0.06" text-anchor="end">1.5</text>
<line x1="288.9" x2="291" y1="254.5" y2="254.5" stroke="#9a9a9a" stroke-width="0.6"/>
<text transform="translate(288.15,256.38) scale(1,1.07) rotate(0.01)" font-size="4.4" fill="#1a1a1a" stroke="#1a1a1a" stroke-width="0.06" text-anchor="end">2.0</text>
<line x1="288.9" x2="291" y1="237" y2="237" stroke="#9a9a9a" stroke-width="0.6"/>
<text transform="translate(288.15,238.88) scale(1,1.07) rotate(0.01)" font-size="4.4" fill="#1a1a1a" stroke="#1a1a1a" stroke-width="0.06" text-anchor="end">2.5</text>
<line x1="305.8" x2="305.8" y1="310.6" y2="312.1" stroke="#9a9a9a" stroke-width="0.6"/>
<text transform="translate(305.5,313) rotate(-45) scale(1,1.15)" font-size="4.55" fill="#3a3a3a" stroke="#3a3a3a" stroke-width="0.1" text-anchor="end" y="3.08">PRS-low</text>
<line x1="331" x2="331" y1="310.6" y2="312.1" stroke="#9a9a9a" stroke-width="0.6"/>
<text transform="translate(330.7,313) rotate(-45) scale(1,1.15)" font-size="4.55" fill="#3a3a3a" stroke="#3a3a3a" stroke-width="0.1" text-anchor="end" y="3.08">PRS-medium</text>
<line x1="356.2" x2="356.2" y1="310.6" y2="312.1" stroke="#9a9a9a" stroke-width="0.6"/>
<text transform="translate(355.9,313) rotate(-45) scale(1,1.15)" font-size="4.55" fill="#3a3a3a" stroke="#3a3a3a" stroke-width="0.1" text-anchor="end" y="3.08">PRS-high</text>
<line x1="291" x2="371.5" y1="289.5" y2="289.5" stroke="#888" stroke-width="0.75" stroke-dasharray="2.1 2.05"/>
<circle cx="301.6" cy="289.5" r="1.2" fill="#6cc49e"/>
<g stroke="#74abc5" stroke-width="0.7" stroke-opacity="0.9"><line x1="305.8" x2="305.8" y1="281.39" y2="294.55"/><line x1="305" x2="306.6" y1="281.39" y2="281.39"/><line x1="305" x2="306.6" y1="294.55" y2="294.55"/></g>
<circle cx="305.8" cy="288.33" r="1.2" fill="#74abc5"/>
<g stroke="#f8766d" stroke-width="0.7" stroke-opacity="0.9"><line x1="310" x2="310" y1="284.38" y2="296.95"/><line x1="309.2" x2="310.8" y1="284.38" y2="284.38"/><line x1="309.2" x2="310.8" y1="296.95" y2="296.95"/></g>
<circle cx="310" cy="291.32" r="1.2" fill="#f8766d"/>
<circle cx="326.8" cy="289.5" r="1.2" fill="#6cc49e"/>
<g stroke="#74abc5" stroke-width="0.7" stroke-opacity="0.9"><line x1="331" x2="331" y1="285.58" y2="295.39"/><line x1="330.2" x2="331.8" y1="285.58" y2="285.58"/><line x1="330.2" x2="331.8" y1="295.39" y2="295.39"/></g>
<circle cx="331" cy="291.08" r="1.2" fill="#74abc5"/>
<g stroke="#f8766d" stroke-width="0.7" stroke-opacity="0.9"><line x1="335.2" x2="335.2" y1="289.41" y2="299.34"/><line x1="334.4" x2="336" y1="289.41" y2="289.41"/><line x1="334.4" x2="336" y1="299.34" y2="299.34"/></g>
<circle cx="335.2" cy="294.79" r="1.2" fill="#f8766d"/>
<circle cx="352" cy="289.5" r="1.2" fill="#6cc49e"/>
<g stroke="#74abc5" stroke-width="0.7" stroke-opacity="0.9"><line x1="356.2" x2="356.2" y1="286.53" y2="294.19"/><line x1="355.4" x2="357" y1="286.53" y2="286.53"/><line x1="355.4" x2="357" y1="294.19" y2="294.19"/></g>
<circle cx="356.2" cy="290.6" r="1.2" fill="#74abc5"/>
<g stroke="#f8766d" stroke-width="0.7" stroke-opacity="0.9"><line x1="360.4" x2="360.4" y1="292.16" y2="299.34"/><line x1="359.6" x2="361.2" y1="292.16" y2="292.16"/><line x1="359.6" x2="361.2" y1="299.34" y2="299.34"/></g>
<circle cx="360.4" cy="295.75" r="1.2" fill="#f8766d"/>
<rect x="383" y="224.7" width="80.5" height="9.25" fill="#b3b3b3"/>
<text transform="translate(423.25,231.16) scale(1,0.9) rotate(0.01)" font-size="4.8" font-weight="bold" fill="#fff" stroke="#fff" stroke-width="0.1" text-anchor="middle">Skin Non-melanoma</text>
<rect x="383" y="233.95" width="80.5" height="76.65" fill="none" stroke="#cfcfcf" stroke-width="1"/>
<line x1="380.9" x2="383" y1="307" y2="307" stroke="#9a9a9a" stroke-width="0.6"/>
<text transform="translate(380.15,308.88) scale(1,1.07) rotate(0.01)" font-size="4.4" fill="#1a1a1a" stroke="#1a1a1a" stroke-width="0.06" text-anchor="end">0.5</text>
<line x1="380.9" x2="383" y1="289.5" y2="289.5" stroke="#9a9a9a" stroke-width="0.6"/>
<text transform="translate(380.15,291.38) scale(1,1.07) rotate(0.01)" font-size="4.4" fill="#1a1a1a" stroke="#1a1a1a" stroke-width="0.06" text-anchor="end">1.0</text>
<line x1="380.9" x2="383" y1="272" y2="272" stroke="#9a9a9a" stroke-width="0.6"/>
<text transform="translate(380.15,273.88) scale(1,1.07) rotate(0.01)" font-size="4.4" fill="#1a1a1a" stroke="#1a1a1a" stroke-width="0.06" text-anchor="end">1.5</text>
<line x1="380.9" x2="383" y1="254.5" y2="254.5" stroke="#9a9a9a" stroke-width="0.6"/>
<text transform="translate(380.15,256.38) scale(1,1.07) rotate(0.01)" font-size="4.4" fill="#1a1a1a" stroke="#1a1a1a" stroke-width="0.06" text-anchor="end">2.0</text>
<line x1="380.9" x2="383" y1="237" y2="237" stroke="#9a9a9a" stroke-width="0.6"/>
<text transform="translate(380.15,238.88) scale(1,1.07) rotate(0.01)" font-size="4.4" fill="#1a1a1a" stroke="#1a1a1a" stroke-width="0.06" text-anchor="end">2.5</text>
<line x1="397.8" x2="397.8" y1="310.6" y2="312.1" stroke="#9a9a9a" stroke-width="0.6"/>
<text transform="translate(397.5,313) rotate(-45) scale(1,1.15)" font-size="4.55" fill="#3a3a3a" stroke="#3a3a3a" stroke-width="0.1" text-anchor="end" y="3.08">PRS-low</text>
<line x1="423" x2="423" y1="310.6" y2="312.1" stroke="#9a9a9a" stroke-width="0.6"/>
<text transform="translate(422.7,313) rotate(-45) scale(1,1.15)" font-size="4.55" fill="#3a3a3a" stroke="#3a3a3a" stroke-width="0.1" text-anchor="end" y="3.08">PRS-medium</text>
<line x1="448.2" x2="448.2" y1="310.6" y2="312.1" stroke="#9a9a9a" stroke-width="0.6"/>
<text transform="translate(447.9,313) rotate(-45) scale(1,1.15)" font-size="4.55" fill="#3a3a3a" stroke="#3a3a3a" stroke-width="0.1" text-anchor="end" y="3.08">PRS-high</text>
<line x1="383" x2="463.5" y1="289.5" y2="289.5" stroke="#888" stroke-width="0.75" stroke-dasharray="2.1 2.05"/>
<circle cx="393.6" cy="289.5" r="1.2" fill="#6cc49e"/>
<g stroke="#74abc5" stroke-width="0.7" stroke-opacity="0.9"><line x1="397.8" x2="397.8" y1="288.45" y2="293.48"/><line x1="397" x2="398.6" y1="288.45" y2="288.45"/><line x1="397" x2="398.6" y1="293.48" y2="293.48"/></g>
<circle cx="397.8" cy="290.84" r="1.2" fill="#74abc5"/>
<g stroke="#f8766d" stroke-width="0.7" stroke-opacity="0.9"><line x1="402" x2="402" y1="292.28" y2="296.59"/><line x1="401.2" x2="402.8" y1="292.28" y2="292.28"/><line x1="401.2" x2="402.8" y1="296.59" y2="296.59"/></g>
<circle cx="402" cy="294.79" r="1.2" fill="#f8766d"/>
<circle cx="418.8" cy="289.5" r="1.2" fill="#6cc49e"/>
<g stroke="#74abc5" stroke-width="0.7" stroke-opacity="0.9"><line x1="423" x2="423" y1="288.45" y2="292.52"/><line x1="422.2" x2="423.8" y1="288.45" y2="288.45"/><line x1="422.2" x2="423.8" y1="292.52" y2="292.52"/></g>
<circle cx="423" cy="290.84" r="1.2" fill="#74abc5"/>
<g stroke="#f8766d" stroke-width="0.7" stroke-opacity="0.9"><line x1="427.2" x2="427.2" y1="292.28" y2="295.87"/><line x1="426.4" x2="428" y1="292.28" y2="292.28"/><line x1="426.4" x2="428" y1="295.87" y2="295.87"/></g>
<circle cx="427.2" cy="294.19" r="1.2" fill="#f8766d"/>
<circle cx="444" cy="289.5" r="1.2" fill="#6cc49e"/>
<g stroke="#74abc5" stroke-width="0.7" stroke-opacity="0.9"><line x1="448.2" x2="448.2" y1="289.89" y2="292.52"/><line x1="447.4" x2="449" y1="289.89" y2="289.89"/><line x1="447.4" x2="449" y1="292.52" y2="292.52"/></g>
<circle cx="448.2" cy="291.32" r="1.2" fill="#74abc5"/>
<g stroke="#f8766d" stroke-width="0.7" stroke-opacity="0.9"><line x1="452.4" x2="452.4" y1="293" y2="295.63"/><line x1="451.6" x2="453.2" y1="293" y2="293"/><line x1="451.6" x2="453.2" y1="295.63" y2="295.63"/></g>
<circle cx="452.4" cy="294.31" r="1.2" fill="#f8766d"/>
<rect x="474.6" y="224.7" width="80.9" height="9.25" fill="#b3b3b3"/>
<text transform="translate(515.05,231.16) scale(1,0.9) rotate(0.01)" font-size="4.8" font-weight="bold" fill="#fff" stroke="#fff" stroke-width="0.1" text-anchor="middle">Stomach</text>
<rect x="474.6" y="233.95" width="80.9" height="76.65" fill="none" stroke="#cfcfcf" stroke-width="1"/>
<line x1="472.9" x2="474.6" y1="307" y2="307" stroke="#9a9a9a" stroke-width="0.6"/>
<text transform="translate(472.15,308.88) scale(1,1.07) rotate(0.01)" font-size="4.4" fill="#1a1a1a" stroke="#1a1a1a" stroke-width="0.06" text-anchor="end">0.5</text>
<line x1="472.9" x2="474.6" y1="289.5" y2="289.5" stroke="#9a9a9a" stroke-width="0.6"/>
<text transform="translate(472.15,291.38) scale(1,1.07) rotate(0.01)" font-size="4.4" fill="#1a1a1a" stroke="#1a1a1a" stroke-width="0.06" text-anchor="end">1.0</text>
<line x1="472.9" x2="474.6" y1="272" y2="272" stroke="#9a9a9a" stroke-width="0.6"/>
<text transform="translate(472.15,273.88) scale(1,1.07) rotate(0.01)" font-size="4.4" fill="#1a1a1a" stroke="#1a1a1a" stroke-width="0.06" text-anchor="end">1.5</text>
<line x1="472.9" x2="474.6" y1="254.5" y2="254.5" stroke="#9a9a9a" stroke-width="0.6"/>
<text transform="translate(472.15,256.38) scale(1,1.07) rotate(0.01)" font-size="4.4" fill="#1a1a1a" stroke="#1a1a1a" stroke-width="0.06" text-anchor="end">2.0</text>
<line x1="472.9" x2="474.6" y1="237" y2="237" stroke="#9a9a9a" stroke-width="0.6"/>
<text transform="translate(472.15,238.88) scale(1,1.07) rotate(0.01)" font-size="4.4" fill="#1a1a1a" stroke="#1a1a1a" stroke-width="0.06" text-anchor="end">2.5</text>
<line x1="489.8" x2="489.8" y1="310.6" y2="312.1" stroke="#9a9a9a" stroke-width="0.6"/>
<text transform="translate(489.5,313) rotate(-45) scale(1,1.15)" font-size="4.55" fill="#3a3a3a" stroke="#3a3a3a" stroke-width="0.1" text-anchor="end" y="3.08">PRS-low</text>
<line x1="515" x2="515" y1="310.6" y2="312.1" stroke="#9a9a9a" stroke-width="0.6"/>
<text transform="translate(514.7,313) rotate(-45) scale(1,1.15)" font-size="4.55" fill="#3a3a3a" stroke="#3a3a3a" stroke-width="0.1" text-anchor="end" y="3.08">PRS-medium</text>
<line x1="540.2" x2="540.2" y1="310.6" y2="312.1" stroke="#9a9a9a" stroke-width="0.6"/>
<text transform="translate(539.9,313) rotate(-45) scale(1,1.15)" font-size="4.55" fill="#3a3a3a" stroke="#3a3a3a" stroke-width="0.1" text-anchor="end" y="3.08">PRS-high</text>
<line x1="474.6" x2="555.5" y1="289.5" y2="289.5" stroke="#888" stroke-width="0.75" stroke-dasharray="2.1 2.05"/>
<circle cx="485.6" cy="289.5" r="1.2" fill="#6cc49e"/>
<g stroke="#74abc5" stroke-width="0.7" stroke-opacity="0.9"><line x1="489.8" x2="489.8" y1="273.57" y2="305.39"/><line x1="489" x2="490.6" y1="273.57" y2="273.57"/><line x1="489" x2="490.6" y1="305.39" y2="305.39"/></g>
<circle cx="489.8" cy="292.94" r="1.2" fill="#74abc5"/>
<g stroke="#f8766d" stroke-width="0.7" stroke-opacity="0.9"><line x1="494" x2="494" y1="251.9" y2="295.25"/><line x1="493.2" x2="494.8" y1="251.9" y2="251.9"/><line x1="493.2" x2="494.8" y1="295.25" y2="295.25"/></g>
<circle cx="494" cy="277.96" r="1.2" fill="#f8766d"/>
<circle cx="510.8" cy="289.5" r="1.2" fill="#6cc49e"/>
<g stroke="#74abc5" stroke-width="0.7" stroke-opacity="0.9"><line x1="515" x2="515" y1="260.43" y2="298.93"/><line x1="514.2" x2="515.8" y1="260.43" y2="260.43"/><line x1="514.2" x2="515.8" y1="298.93" y2="298.93"/></g>
<circle cx="515" cy="283.95" r="1.2" fill="#74abc5"/>
<g stroke="#f8766d" stroke-width="0.7" stroke-opacity="0.9"><line x1="519.2" x2="519.2" y1="239.22" y2="289.02"/><line x1="518.4" x2="520" y1="239.22" y2="239.22"/><line x1="518.4" x2="520" y1="289.02" y2="289.02"/></g>
<circle cx="519.2" cy="268.73" r="1.2" fill="#f8766d"/>
<circle cx="536" cy="289.5" r="1.2" fill="#6cc49e"/>
<g stroke="#74abc5" stroke-width="0.7" stroke-opacity="0.9"><line x1="540.2" x2="540.2" y1="268.73" y2="296.4"/><line x1="539.4" x2="541" y1="268.73" y2="268.73"/><line x1="539.4" x2="541" y1="296.4" y2="296.4"/></g>
<circle cx="540.2" cy="284.87" r="1.2" fill="#74abc5"/>
<g stroke="#f8766d" stroke-width="0.7" stroke-opacity="0.9"><line x1="544.4" x2="544.4" y1="245.45" y2="282.57"/><line x1="543.6" x2="545.2" y1="245.45" y2="245.45"/><line x1="543.6" x2="545.2" y1="282.57" y2="282.57"/></g>
<circle cx="544.4" cy="266.89" r="1.2" fill="#f8766d"/>
<rect x="566.5" y="224.7" width="81" height="9.25" fill="#b3b3b3"/>
<text transform="translate(607,231.16) scale(1,0.9) rotate(0.01)" font-size="4.8" font-weight="bold" fill="#fff" stroke="#fff" stroke-width="0.1" text-anchor="middle">Thyroid</text>
<rect x="566.5" y="233.95" width="81" height="76.65" fill="none" stroke="#cfcfcf" stroke-width="1"/>
<line x1="564.9" x2="566.5" y1="307" y2="307" stroke="#9a9a9a" stroke-width="0.6"/>
<text transform="translate(564.15,308.88) scale(1,1.07) rotate(0.01)" font-size="4.4" fill="#1a1a1a" stroke="#1a1a1a" stroke-width="0.06" text-anchor="end">0.5</text>
<line x1="564.9" x2="566.5" y1="289.5" y2="289.5" stroke="#9a9a9a" stroke-width="0.6"/>
<text transform="translate(564.15,291.38) scale(1,1.07) rotate(0.01)" font-size="4.4" fill="#1a1a1a" stroke="#1a1a1a" stroke-width="0.06" text-anchor="end">1.0</text>
<line x1="564.9" x2="566.5" y1="272" y2="272" stroke="#9a9a9a" stroke-width="0.6"/>
<text transform="translate(564.15,273.88) scale(1,1.07) rotate(0.01)" font-size="4.4" fill="#1a1a1a" stroke="#1a1a1a" stroke-width="0.06" text-anchor="end">1.5</text>
<line x1="564.9" x2="566.5" y1="254.5" y2="254.5" stroke="#9a9a9a" stroke-width="0.6"/>
<text transform="translate(564.15,256.38) scale(1,1.07) rotate(0.01)" font-size="4.4" fill="#1a1a1a" stroke="#1a1a1a" stroke-width="0.06" text-anchor="end">2.0</text>
<line x1="564.9" x2="566.5" y1="237" y2="237" stroke="#9a9a9a" stroke-width="0.6"/>
<text transform="translate(564.15,238.88) scale(1,1.07) rotate(0.01)" font-size="4.4" fill="#1a1a1a" stroke="#1a1a1a" stroke-width="0.06" text-anchor="end">2.5</text>
<line x1="581.8" x2="581.8" y1="310.6" y2="312.1" stroke="#9a9a9a" stroke-width="0.6"/>
<text transform="translate(581.5,313) rotate(-45) scale(1,1.15)" font-size="4.55" fill="#3a3a3a" stroke="#3a3a3a" stroke-width="0.1" text-anchor="end" y="3.08">PRS-low</text>
<line x1="607" x2="607" y1="310.6" y2="312.1" stroke="#9a9a9a" stroke-width="0.6"/>
<text transform="translate(606.7,313) rotate(-45) scale(1,1.15)" font-size="4.55" fill="#3a3a3a" stroke="#3a3a3a" stroke-width="0.1" text-anchor="end" y="3.08">PRS-medium</text>
<line x1="632.2" x2="632.2" y1="310.6" y2="312.1" stroke="#9a9a9a" stroke-width="0.6"/>
<text transform="translate(631.9,313) rotate(-45) scale(1,1.15)" font-size="4.55" fill="#3a3a3a" stroke="#3a3a3a" stroke-width="0.1" text-anchor="end" y="3.08">PRS-high</text>
<line x1="566.5" x2="647.5" y1="289.5" y2="289.5" stroke="#888" stroke-width="0.75" stroke-dasharray="2.1 2.05"/>
<circle cx="577.6" cy="289.5" r="1.2" fill="#6cc49e"/>
<g stroke="#74abc5" stroke-width="0.7" stroke-opacity="0.9"><line x1="581.8" x2="581.8" y1="282.1" y2="307.23"/><line x1="581" x2="582.6" y1="282.1" y2="282.1"/><line x1="581" x2="582.6" y1="307.23" y2="307.23"/></g>
<circle cx="581.8" cy="298.24" r="1.2" fill="#74abc5"/>
<g stroke="#f8766d" stroke-width="0.7" stroke-opacity="0.9"><line x1="586" x2="586" y1="256.28" y2="296.4"/><line x1="585.2" x2="586.8" y1="256.28" y2="256.28"/><line x1="585.2" x2="586.8" y1="296.4" y2="296.4"/></g>
<circle cx="586" cy="280.72" r="1.2" fill="#f8766d"/>
<circle cx="602.8" cy="289.5" r="1.2" fill="#6cc49e"/>
<g stroke="#74abc5" stroke-width="0.7" stroke-opacity="0.9"><line x1="607" x2="607" y1="267.12" y2="298.47"/><line x1="606.2" x2="607.8" y1="267.12" y2="267.12"/><line x1="606.2" x2="607.8" y1="298.47" y2="298.47"/></g>
<circle cx="607" cy="286.02" r="1.2" fill="#74abc5"/>
<g stroke="#f8766d" stroke-width="0.7" stroke-opacity="0.9"><line x1="611.2" x2="611.2" y1="270.35" y2="301.01"/><line x1="610.4" x2="612" y1="270.35" y2="270.35"/><line x1="610.4" x2="612" y1="301.01" y2="301.01"/></g>
<circle cx="611.2" cy="288.79" r="1.2" fill="#f8766d"/>
<circle cx="628" cy="289.5" r="1.2" fill="#6cc49e"/>
<g stroke="#74abc5" stroke-width="0.7" stroke-opacity="0.9"><line x1="632.2" x2="632.2" y1="286.72" y2="304.01"/><line x1="631.4" x2="633" y1="286.72" y2="286.72"/><line x1="631.4" x2="633" y1="304.01" y2="304.01"/></g>
<circle cx="632.2" cy="296.63" r="1.2" fill="#74abc5"/>
<g stroke="#f8766d" stroke-width="0.7" stroke-opacity="0.9"><line x1="636.4" x2="636.4" y1="281.41" y2="300.55"/><line x1="635.6" x2="637.2" y1="281.41" y2="281.41"/><line x1="635.6" x2="637.2" y1="300.55" y2="300.55"/></g>
<circle cx="636.4" cy="292.25" r="1.2" fill="#f8766d"/>
<text transform="translate(3.95,158.7) rotate(-90)" font-size="5.1" fill="#111" stroke="#111" stroke-width="0.08" text-anchor="middle">HR (95% CI)</text>
<text transform="translate(655.6,147.9) rotate(0.01)" font-size="5.25" fill="#111" stroke="#111" stroke-width="0.08">BioAgeAccel</text>
<line x1="655.9" x2="663.1" y1="155.4" y2="155.4" stroke="#6cc49e" stroke-width="0.7"/>
<circle cx="659.5" cy="155.4" r="1.2" fill="#6cc49e"/>
<text transform="translate(666.1,157) rotate(0.01)" font-size="4.4" fill="#1a1a1a" stroke="#1a1a1a" stroke-width="0.05">Low</text>
<line x1="655.9" x2="663.1" y1="163.7" y2="163.7" stroke="#74abc5" stroke-width="0.7"/>
<circle cx="659.5" cy="163.7" r="1.2" fill="#74abc5"/>
<text transform="translate(666.1,165.3) rotate(0.01)" font-size="4.4" fill="#1a1a1a" stroke="#1a1a1a" stroke-width="0.05">Medium</text>
<line x1="655.9" x2="663.1" y1="172" y2="172" stroke="#f8766d" stroke-width="0.7"/>
<circle cx="659.5" cy="172" r="1.2" fill="#f8766d"/>
<text transform="translate(666.1,173.6) rotate(0.01)" font-size="4.4" fill="#1a1a1a" stroke="#1a1a1a" stroke-width="0.05">High</text>
</g>
</svg></body></html>
